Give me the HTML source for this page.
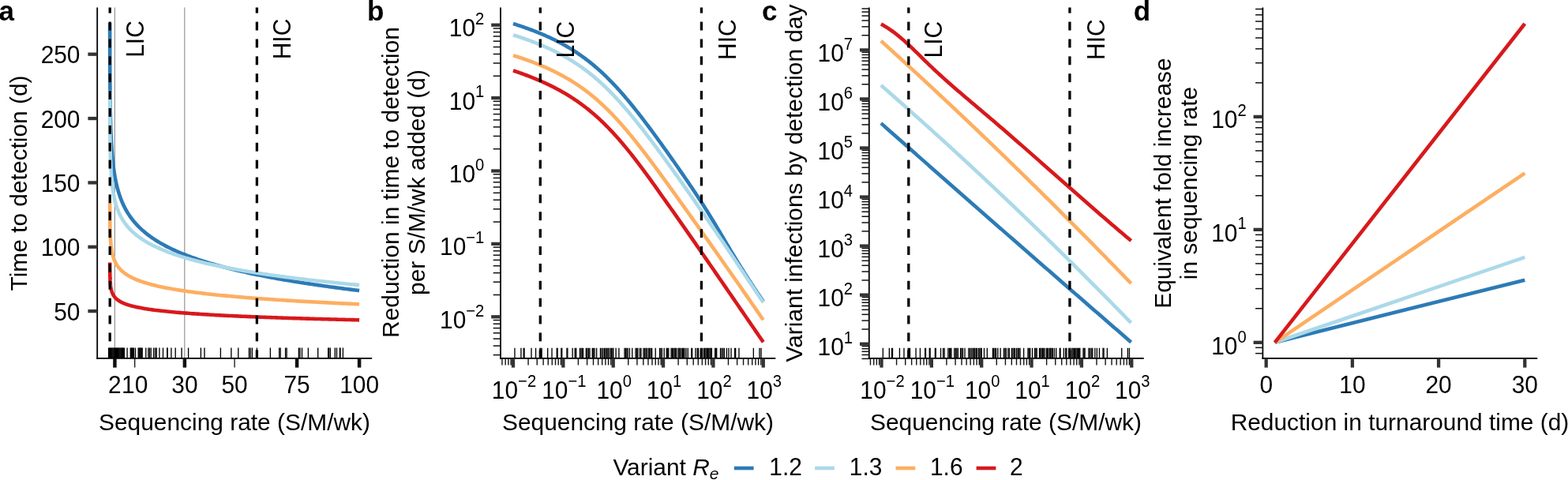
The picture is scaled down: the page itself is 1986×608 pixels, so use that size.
<!DOCTYPE html>
<html><head><meta charset="utf-8"><style>
html,body{margin:0;padding:0;background:#fff;}
svg{display:block;}
text{font-family:"Liberation Sans",Arial,Helvetica,sans-serif;fill:#000;}
</style></head><body>
<svg width="1986" height="608" viewBox="0 0 1986 608">
<rect width="1986" height="608" fill="#fff"/>
<text x="-1.50" y="25.80" font-size="35" text-anchor="start" font-weight="bold">a</text>
<line x1="145.40" y1="9.50" x2="145.40" y2="453.90" stroke="#959595" stroke-width="1.2" />
<line x1="233.80" y1="9.50" x2="233.80" y2="453.90" stroke="#959595" stroke-width="1.2" />
<path d="M139.13,28.91 L139.13,30.61 L139.13,32.30 L139.14,34.00 L139.14,35.70 L139.14,37.40 L139.14,39.09 L139.14,40.79 L139.15,42.49 L139.15,44.18 L139.15,45.88 L139.15,47.58 L139.16,49.28 L139.16,50.97 L139.16,52.67 L139.16,54.37 L139.17,56.06 L139.17,57.76 L139.17,59.46 L139.18,61.16 L139.18,62.85 L139.18,64.55 L139.19,66.25 L139.19,67.94 L139.20,69.64 L139.20,71.34 L139.21,73.04 L139.21,74.73 L139.22,76.43 L139.22,78.13 L139.23,79.82 L139.23,81.52 L139.24,83.22 L139.25,84.92 L139.25,86.61 L139.26,88.31 L139.27,90.01 L139.28,91.70 L139.28,93.40 L139.29,95.10 L139.30,96.80 L139.31,98.49 L139.32,100.19 L139.33,101.89 L139.34,103.58 L139.35,105.28 L139.37,106.98 L139.38,108.68 L139.39,110.37 L139.41,112.07 L139.42,113.77 L139.44,115.47 L139.45,117.16 L139.47,118.86 L139.49,120.56 L139.50,122.25 L139.52,123.95 L139.54,125.65 L139.57,127.35 L139.59,129.04 L139.61,130.74 L139.63,132.44 L139.66,134.13 L139.69,135.83 L139.71,137.53 L139.74,139.23 L139.77,140.92 L139.81,142.62 L139.84,144.32 L139.87,146.01 L139.91,147.71 L139.95,149.41 L139.99,151.11 L140.03,152.80 L140.08,154.50 L140.12,156.20 L140.17,157.89 L140.22,159.59 L140.28,161.29 L140.33,162.99 L140.39,164.68 L140.45,166.38 L140.51,168.08 L140.58,169.77 L140.65,171.47 L140.73,173.17 L140.80,174.87 L140.88,176.56 L140.97,178.26 L141.06,179.96 L141.15,181.65 L141.25,183.35 L141.35,185.05 L141.46,186.75 L141.57,188.44 L141.68,190.14 L141.81,191.84 L141.94,193.53 L142.07,195.23 L142.21,196.93 L142.36,198.63 L142.51,200.32 L142.68,202.02 L142.85,203.72 L143.02,205.41 L143.21,207.11 L143.40,208.81 L143.61,210.51 L143.82,212.20 L144.05,213.90 L144.28,215.60 L144.53,217.29 L144.78,218.99 L145.05,220.69 L145.34,222.39 L145.63,224.08 L145.94,225.78 L146.27,227.48 L146.61,229.18 L146.96,230.87 L147.34,232.57 L147.73,234.27 L148.14,235.96 L148.57,237.66 L149.02,239.36 L149.49,241.06 L149.98,242.75 L150.50,244.45 L151.04,246.15 L151.60,247.85 L152.20,249.54 L152.82,251.24 L153.47,252.94 L154.15,254.64 L154.86,256.34 L155.61,258.03 L156.40,259.73 L157.22,261.43 L158.08,263.13 L158.98,264.83 L159.92,266.53 L160.91,268.23 L161.94,269.92 L163.03,271.62 L164.16,273.32 L165.35,275.02 L166.60,276.72 L167.90,278.42 L169.27,280.12 L170.70,281.83 L171.33,282.55 L173.72,285.17 L176.10,287.62 L178.49,289.92 L180.87,292.08 L183.26,294.12 L185.64,296.06 L188.02,297.90 L190.41,299.66 L192.79,301.33 L195.18,302.94 L197.56,304.48 L199.95,305.96 L202.33,307.38 L204.72,308.75 L207.10,310.08 L209.49,311.36 L211.87,312.59 L214.25,313.79 L216.64,314.95 L219.02,316.08 L221.41,317.18 L223.79,318.24 L226.18,319.28 L228.56,320.29 L230.95,321.27 L233.33,322.23 L235.72,323.16 L238.10,324.08 L240.49,324.97 L242.87,325.84 L245.25,326.69 L247.64,327.53 L250.02,328.34 L252.41,329.14 L254.79,329.93 L257.18,330.70 L259.56,331.45 L261.95,332.19 L264.33,332.91 L266.72,333.62 L269.10,334.32 L271.49,335.01 L273.87,335.68 L276.25,336.34 L278.64,336.99 L281.02,337.63 L283.41,338.26 L285.79,338.88 L288.18,339.49 L290.56,340.09 L292.95,340.69 L295.33,341.27 L297.72,341.84 L300.10,342.41 L302.49,342.96 L304.87,343.51 L307.25,344.06 L309.64,344.59 L312.02,345.12 L314.41,345.64 L316.79,346.15 L319.18,346.65 L321.56,347.15 L323.95,347.65 L326.33,348.13 L328.72,348.61 L331.10,349.09 L333.49,349.56 L335.87,350.02 L338.25,350.48 L340.64,350.93 L343.02,351.38 L345.41,351.82 L347.79,352.26 L350.18,352.69 L352.56,353.12 L354.95,353.54 L357.33,353.96 L359.72,354.37 L362.10,354.78 L364.49,355.19 L366.87,355.59 L369.25,355.98 L371.64,356.38 L374.02,356.76 L376.41,357.15 L378.79,357.53 L381.18,357.91 L383.56,358.28 L385.95,358.65 L388.33,359.02 L390.72,359.38 L393.10,359.74 L395.48,360.10 L397.87,360.45 L400.25,360.80 L402.64,361.14 L405.02,361.49 L407.41,361.83 L409.79,362.17 L412.18,362.50 L414.56,362.83 L416.95,363.16 L419.33,363.49 L421.72,363.81 L424.10,364.13 L426.48,364.45 L428.87,364.76 L431.25,365.07 L433.64,365.38 L436.02,365.69 L438.41,366.00 L440.79,366.30 L443.18,366.60 L445.56,366.90 L447.95,367.19 L450.33,367.49 L452.72,367.78 L455.10,368.07" fill="none" stroke="#2c7bb6" stroke-width="4.6" stroke-linejoin="round" stroke-linecap="butt"/>
<path d="M139.13,114.77 L139.13,115.99 L139.13,117.20 L139.14,118.42 L139.14,119.63 L139.14,120.85 L139.14,122.06 L139.14,123.27 L139.15,124.49 L139.15,125.70 L139.15,126.92 L139.15,128.13 L139.16,129.35 L139.16,130.56 L139.16,131.78 L139.16,132.99 L139.17,134.20 L139.17,135.42 L139.17,136.63 L139.18,137.85 L139.18,139.06 L139.18,140.28 L139.19,141.49 L139.19,142.71 L139.20,143.92 L139.20,145.13 L139.21,146.35 L139.21,147.56 L139.22,148.78 L139.22,149.99 L139.23,151.21 L139.23,152.42 L139.24,153.63 L139.25,154.85 L139.25,156.06 L139.26,157.28 L139.27,158.49 L139.28,159.71 L139.28,160.92 L139.29,162.14 L139.30,163.35 L139.31,164.56 L139.32,165.78 L139.33,166.99 L139.34,168.21 L139.35,169.42 L139.37,170.64 L139.38,171.85 L139.39,173.07 L139.41,174.28 L139.42,175.49 L139.44,176.71 L139.45,177.92 L139.47,179.14 L139.49,180.35 L139.50,181.57 L139.52,182.78 L139.54,184.00 L139.57,185.21 L139.59,186.42 L139.61,187.64 L139.63,188.85 L139.66,190.07 L139.69,191.28 L139.71,192.50 L139.74,193.71 L139.77,194.92 L139.81,196.14 L139.84,197.35 L139.87,198.57 L139.91,199.78 L139.95,201.00 L139.99,202.21 L140.03,203.43 L140.08,204.64 L140.12,205.85 L140.17,207.07 L140.22,208.28 L140.28,209.50 L140.33,210.71 L140.39,211.93 L140.45,213.14 L140.51,214.36 L140.58,215.57 L140.65,216.78 L140.73,218.00 L140.80,219.21 L140.88,220.43 L140.97,221.64 L141.06,222.86 L141.15,224.07 L141.25,225.29 L141.35,226.50 L141.46,227.72 L141.57,228.93 L141.68,230.15 L141.81,231.36 L141.94,232.57 L142.07,233.79 L142.21,235.00 L142.36,236.22 L142.51,237.43 L142.68,238.65 L142.85,239.86 L143.02,241.08 L143.21,242.29 L143.40,243.51 L143.61,244.72 L143.82,245.94 L144.05,247.15 L144.28,248.37 L144.53,249.58 L144.78,250.80 L145.05,252.02 L145.34,253.23 L145.63,254.45 L145.94,255.66 L146.27,256.88 L146.61,258.10 L146.96,259.31 L147.34,260.53 L147.73,261.75 L148.14,262.96 L148.57,264.18 L149.02,265.40 L149.49,266.62 L149.98,267.83 L150.50,269.05 L151.04,270.27 L151.60,271.49 L152.20,272.71 L152.82,273.93 L153.47,275.15 L154.15,276.38 L154.86,277.60 L155.61,278.82 L156.40,280.04 L157.22,281.27 L158.08,282.50 L158.98,283.72 L159.92,284.95 L160.91,286.18 L161.94,287.41 L163.03,288.64 L164.16,289.87 L165.35,291.11 L166.60,292.35 L167.90,293.58 L169.27,294.82 L170.70,296.07 L171.33,296.60 L173.72,298.51 L176.10,300.31 L178.49,302.00 L180.87,303.59 L183.26,305.10 L185.64,306.53 L188.02,307.90 L190.41,309.20 L192.79,310.45 L195.18,311.64 L197.56,312.79 L199.95,313.90 L202.33,314.96 L204.72,315.99 L207.10,316.98 L209.49,317.94 L211.87,318.88 L214.25,319.78 L216.64,320.65 L219.02,321.50 L221.41,322.33 L223.79,323.13 L226.18,323.92 L228.56,324.68 L230.95,325.42 L233.33,326.15 L235.72,326.86 L238.10,327.55 L240.49,328.23 L242.87,328.89 L245.25,329.53 L247.64,330.17 L250.02,330.79 L252.41,331.39 L254.79,331.99 L257.18,332.57 L259.56,333.14 L261.95,333.70 L264.33,334.26 L266.72,334.80 L269.10,335.33 L271.49,335.85 L273.87,336.36 L276.25,336.87 L278.64,337.36 L281.02,337.85 L283.41,338.33 L285.79,338.80 L288.18,339.26 L290.56,339.72 L292.95,340.17 L295.33,340.62 L297.72,341.05 L300.10,341.48 L302.49,341.91 L304.87,342.33 L307.25,342.74 L309.64,343.15 L312.02,343.55 L314.41,343.94 L316.79,344.34 L319.18,344.72 L321.56,345.10 L323.95,345.48 L326.33,345.85 L328.72,346.22 L331.10,346.58 L333.49,346.94 L335.87,347.29 L338.25,347.64 L340.64,347.98 L343.02,348.33 L345.41,348.66 L347.79,349.00 L350.18,349.33 L352.56,349.65 L354.95,349.98 L357.33,350.29 L359.72,350.61 L362.10,350.92 L364.49,351.23 L366.87,351.54 L369.25,351.84 L371.64,352.14 L374.02,352.44 L376.41,352.73 L378.79,353.02 L381.18,353.31 L383.56,353.59 L385.95,353.88 L388.33,354.16 L390.72,354.43 L393.10,354.71 L395.48,354.98 L397.87,355.25 L400.25,355.52 L402.64,355.78 L405.02,356.04 L407.41,356.30 L409.79,356.56 L412.18,356.82 L414.56,357.07 L416.95,357.32 L419.33,357.57 L421.72,357.82 L424.10,358.06 L426.48,358.30 L428.87,358.55 L431.25,358.78 L433.64,359.02 L436.02,359.26 L438.41,359.49 L440.79,359.72 L443.18,359.95 L445.56,360.18 L447.95,360.40 L450.33,360.63 L452.72,360.85 L455.10,361.07" fill="none" stroke="#abd9e9" stroke-width="4.6" stroke-linejoin="round" stroke-linecap="butt"/>
<path d="M139.13,257.19 L139.13,257.84 L139.13,258.48 L139.14,259.13 L139.14,259.77 L139.14,260.42 L139.14,261.06 L139.14,261.70 L139.15,262.35 L139.15,262.99 L139.15,263.64 L139.15,264.28 L139.16,264.93 L139.16,265.57 L139.16,266.22 L139.16,266.86 L139.17,267.51 L139.17,268.15 L139.17,268.80 L139.18,269.44 L139.18,270.09 L139.18,270.73 L139.19,271.38 L139.19,272.02 L139.20,272.67 L139.20,273.31 L139.21,273.96 L139.21,274.60 L139.22,275.25 L139.22,275.89 L139.23,276.54 L139.23,277.18 L139.24,277.83 L139.25,278.47 L139.25,279.12 L139.26,279.76 L139.27,280.41 L139.28,281.05 L139.28,281.70 L139.29,282.34 L139.30,282.99 L139.31,283.63 L139.32,284.28 L139.33,284.92 L139.34,285.57 L139.35,286.21 L139.37,286.86 L139.38,287.50 L139.39,288.15 L139.41,288.79 L139.42,289.44 L139.44,290.08 L139.45,290.73 L139.47,291.37 L139.49,292.02 L139.50,292.66 L139.52,293.31 L139.54,293.95 L139.57,294.60 L139.59,295.24 L139.61,295.89 L139.63,296.53 L139.66,297.18 L139.69,297.82 L139.71,298.47 L139.74,299.11 L139.77,299.76 L139.81,300.40 L139.84,301.04 L139.87,301.69 L139.91,302.33 L139.95,302.98 L139.99,303.62 L140.03,304.27 L140.08,304.91 L140.12,305.56 L140.17,306.20 L140.22,306.85 L140.28,307.49 L140.33,308.14 L140.39,308.78 L140.45,309.43 L140.51,310.07 L140.58,310.72 L140.65,311.36 L140.73,312.01 L140.80,312.65 L140.88,313.30 L140.97,313.94 L141.06,314.59 L141.15,315.23 L141.25,315.88 L141.35,316.52 L141.46,317.17 L141.57,317.81 L141.68,318.46 L141.81,319.10 L141.94,319.75 L142.07,320.39 L142.21,321.04 L142.36,321.68 L142.51,322.33 L142.68,322.97 L142.85,323.62 L143.02,324.26 L143.21,324.91 L143.40,325.55 L143.61,326.20 L143.82,326.84 L144.05,327.49 L144.28,328.13 L144.53,328.78 L144.78,329.42 L145.05,330.07 L145.34,330.71 L145.63,331.36 L145.94,332.00 L146.27,332.65 L146.61,333.29 L146.96,333.94 L147.34,334.58 L147.73,335.23 L148.14,335.87 L148.57,336.52 L149.02,337.16 L149.49,337.81 L149.98,338.45 L150.50,339.10 L151.04,339.74 L151.60,340.38 L152.20,341.03 L152.82,341.67 L153.47,342.32 L154.15,342.96 L154.86,343.61 L155.61,344.25 L156.40,344.90 L157.22,345.54 L158.08,346.19 L158.98,346.83 L159.92,347.48 L160.91,348.12 L161.94,348.77 L163.03,349.41 L164.16,350.06 L165.35,350.70 L166.60,351.35 L167.90,351.99 L169.27,352.64 L170.70,353.28 L171.33,353.56 L173.72,354.55 L176.10,355.48 L178.49,356.35 L180.87,357.16 L183.26,357.94 L185.64,358.67 L188.02,359.36 L190.41,360.03 L192.79,360.66 L195.18,361.26 L197.56,361.84 L199.95,362.40 L202.33,362.93 L204.72,363.45 L207.10,363.94 L209.49,364.42 L211.87,364.89 L214.25,365.34 L216.64,365.77 L219.02,366.19 L221.41,366.60 L223.79,367.00 L226.18,367.38 L228.56,367.76 L230.95,368.13 L233.33,368.48 L235.72,368.83 L238.10,369.17 L240.49,369.50 L242.87,369.82 L245.25,370.14 L247.64,370.45 L250.02,370.75 L252.41,371.05 L254.79,371.34 L257.18,371.62 L259.56,371.90 L261.95,372.17 L264.33,372.44 L266.72,372.70 L269.10,372.96 L271.49,373.21 L273.87,373.46 L276.25,373.70 L278.64,373.94 L281.02,374.18 L283.41,374.41 L285.79,374.64 L288.18,374.86 L290.56,375.08 L292.95,375.30 L295.33,375.52 L297.72,375.73 L300.10,375.93 L302.49,376.14 L304.87,376.34 L307.25,376.54 L309.64,376.73 L312.02,376.93 L314.41,377.12 L316.79,377.31 L319.18,377.49 L321.56,377.67 L323.95,377.85 L326.33,378.03 L328.72,378.21 L331.10,378.38 L333.49,378.55 L335.87,378.72 L338.25,378.89 L340.64,379.06 L343.02,379.22 L345.41,379.38 L347.79,379.54 L350.18,379.70 L352.56,379.86 L354.95,380.01 L357.33,380.16 L359.72,380.32 L362.10,380.47 L364.49,380.61 L366.87,380.76 L369.25,380.90 L371.64,381.05 L374.02,381.19 L376.41,381.33 L378.79,381.47 L381.18,381.61 L383.56,381.74 L385.95,381.88 L388.33,382.01 L390.72,382.14 L393.10,382.28 L395.48,382.41 L397.87,382.53 L400.25,382.66 L402.64,382.79 L405.02,382.91 L407.41,383.04 L409.79,383.16 L412.18,383.28 L414.56,383.40 L416.95,383.52 L419.33,383.64 L421.72,383.76 L424.10,383.88 L426.48,383.99 L428.87,384.11 L431.25,384.22 L433.64,384.34 L436.02,384.45 L438.41,384.56 L440.79,384.67 L443.18,384.78 L445.56,384.89 L447.95,385.00 L450.33,385.10 L452.72,385.21 L455.10,385.31" fill="none" stroke="#fdae61" stroke-width="4.6" stroke-linejoin="round" stroke-linecap="butt"/>
<path d="M139.13,332.46 L139.13,332.87 L139.13,333.28 L139.14,333.69 L139.14,334.10 L139.14,334.51 L139.14,334.92 L139.14,335.33 L139.15,335.74 L139.15,336.15 L139.15,336.56 L139.15,336.96 L139.16,337.37 L139.16,337.78 L139.16,338.18 L139.16,338.59 L139.17,338.99 L139.17,339.40 L139.17,339.80 L139.18,340.21 L139.18,340.61 L139.18,341.01 L139.19,341.41 L139.19,341.81 L139.20,342.21 L139.20,342.61 L139.21,343.01 L139.21,343.41 L139.22,343.81 L139.22,344.21 L139.23,344.61 L139.23,345.01 L139.24,345.40 L139.25,345.80 L139.25,346.20 L139.26,346.59 L139.27,346.99 L139.28,347.38 L139.28,347.78 L139.29,348.17 L139.30,348.56 L139.31,348.95 L139.32,349.35 L139.33,349.74 L139.34,350.13 L139.35,350.52 L139.37,350.91 L139.38,351.30 L139.39,351.69 L139.41,352.08 L139.42,352.47 L139.44,352.85 L139.45,353.24 L139.47,353.63 L139.49,354.01 L139.50,354.40 L139.52,354.78 L139.54,355.17 L139.57,355.55 L139.59,355.94 L139.61,356.32 L139.63,356.70 L139.66,357.08 L139.69,357.47 L139.71,357.85 L139.74,358.23 L139.77,358.61 L139.81,358.99 L139.84,359.37 L139.87,359.75 L139.91,360.13 L139.95,360.50 L139.99,360.88 L140.03,361.26 L140.08,361.63 L140.12,362.01 L140.17,362.39 L140.22,362.76 L140.28,363.13 L140.33,363.51 L140.39,363.88 L140.45,364.25 L140.51,364.63 L140.58,365.00 L140.65,365.37 L140.73,365.74 L140.80,366.11 L140.88,366.48 L140.97,366.85 L141.06,367.22 L141.15,367.59 L141.25,367.96 L141.35,368.33 L141.46,368.69 L141.57,369.06 L141.68,369.42 L141.81,369.79 L141.94,370.16 L142.07,370.52 L142.21,370.88 L142.36,371.25 L142.51,371.61 L142.68,371.97 L142.85,372.34 L143.02,372.70 L143.21,373.06 L143.40,373.42 L143.61,373.78 L143.82,374.14 L144.05,374.50 L144.28,374.86 L144.53,375.22 L144.78,375.57 L145.05,375.93 L145.34,376.29 L145.63,376.64 L145.94,377.00 L146.27,377.36 L146.61,377.71 L146.96,378.06 L147.34,378.42 L147.73,378.77 L148.14,379.12 L148.57,379.48 L149.02,379.83 L149.49,380.18 L149.98,380.53 L150.50,380.88 L151.04,381.23 L151.60,381.58 L152.20,381.93 L152.82,382.28 L153.47,382.63 L154.15,382.97 L154.86,383.32 L155.61,383.67 L156.40,384.01 L157.22,384.36 L158.08,384.70 L158.98,385.05 L159.92,385.39 L160.91,385.74 L161.94,386.08 L163.03,386.42 L164.16,386.76 L165.35,387.11 L166.60,387.45 L167.90,387.79 L169.27,388.13 L170.70,388.47 L171.33,388.61 L173.72,389.14 L176.10,389.62 L178.49,390.08 L180.87,390.51 L183.26,390.92 L185.64,391.30 L188.02,391.67 L190.41,392.02 L192.79,392.35 L195.18,392.67 L197.56,392.97 L199.95,393.27 L202.33,393.55 L204.72,393.82 L207.10,394.08 L209.49,394.33 L211.87,394.58 L214.25,394.81 L216.64,395.04 L219.02,395.26 L221.41,395.48 L223.79,395.69 L226.18,395.89 L228.56,396.09 L230.95,396.28 L233.33,396.47 L235.72,396.65 L238.10,396.83 L240.49,397.00 L242.87,397.17 L245.25,397.34 L247.64,397.50 L250.02,397.66 L252.41,397.82 L254.79,397.97 L257.18,398.12 L259.56,398.27 L261.95,398.41 L264.33,398.55 L266.72,398.69 L269.10,398.82 L271.49,398.96 L273.87,399.09 L276.25,399.22 L278.64,399.34 L281.02,399.47 L283.41,399.59 L285.79,399.71 L288.18,399.83 L290.56,399.94 L292.95,400.06 L295.33,400.17 L297.72,400.28 L300.10,400.39 L302.49,400.50 L304.87,400.60 L307.25,400.71 L309.64,400.81 L312.02,400.91 L314.41,401.01 L316.79,401.11 L319.18,401.21 L321.56,401.31 L323.95,401.40 L326.33,401.49 L328.72,401.59 L331.10,401.68 L333.49,401.77 L335.87,401.86 L338.25,401.95 L340.64,402.03 L343.02,402.12 L345.41,402.20 L347.79,402.29 L350.18,402.37 L352.56,402.45 L354.95,402.54 L357.33,402.62 L359.72,402.70 L362.10,402.77 L364.49,402.85 L366.87,402.93 L369.25,403.01 L371.64,403.08 L374.02,403.16 L376.41,403.23 L378.79,403.30 L381.18,403.38 L383.56,403.45 L385.95,403.52 L388.33,403.59 L390.72,403.66 L393.10,403.73 L395.48,403.80 L397.87,403.86 L400.25,403.93 L402.64,404.00 L405.02,404.06 L407.41,404.13 L409.79,404.19 L412.18,404.26 L414.56,404.32 L416.95,404.38 L419.33,404.45 L421.72,404.51 L424.10,404.57 L426.48,404.63 L428.87,404.69 L431.25,404.75 L433.64,404.81 L436.02,404.87 L438.41,404.93 L440.79,404.99 L443.18,405.04 L445.56,405.10 L447.95,405.16 L450.33,405.21 L452.72,405.27 L455.10,405.33" fill="none" stroke="#d7191c" stroke-width="4.6" stroke-linejoin="round" stroke-linecap="butt"/>
<line x1="137.60" y1="440.50" x2="137.60" y2="453.90" stroke="#000" stroke-width="1.35" />
<line x1="138.50" y1="440.50" x2="138.50" y2="453.90" stroke="#000" stroke-width="1.35" />
<line x1="139.40" y1="440.50" x2="139.40" y2="453.90" stroke="#000" stroke-width="1.35" />
<line x1="140.30" y1="440.50" x2="140.30" y2="453.90" stroke="#000" stroke-width="1.35" />
<line x1="141.20" y1="440.50" x2="141.20" y2="453.90" stroke="#000" stroke-width="1.35" />
<line x1="142.10" y1="440.50" x2="142.10" y2="453.90" stroke="#000" stroke-width="1.35" />
<line x1="143.00" y1="440.50" x2="143.00" y2="453.90" stroke="#000" stroke-width="1.35" />
<line x1="143.90" y1="440.50" x2="143.90" y2="453.90" stroke="#000" stroke-width="1.35" />
<line x1="144.80" y1="440.50" x2="144.80" y2="453.90" stroke="#000" stroke-width="1.35" />
<line x1="145.70" y1="440.50" x2="145.70" y2="453.90" stroke="#000" stroke-width="1.35" />
<line x1="146.60" y1="440.50" x2="146.60" y2="453.90" stroke="#000" stroke-width="1.35" />
<line x1="147.50" y1="440.50" x2="147.50" y2="453.90" stroke="#000" stroke-width="1.35" />
<line x1="148.40" y1="440.50" x2="148.40" y2="453.90" stroke="#000" stroke-width="1.35" />
<line x1="149.30" y1="440.50" x2="149.30" y2="453.90" stroke="#000" stroke-width="1.35" />
<line x1="150.20" y1="440.50" x2="150.20" y2="453.90" stroke="#000" stroke-width="1.35" />
<line x1="151.10" y1="440.50" x2="151.10" y2="453.90" stroke="#000" stroke-width="1.35" />
<line x1="152.00" y1="440.50" x2="152.00" y2="453.90" stroke="#000" stroke-width="1.35" />
<line x1="152.90" y1="440.50" x2="152.90" y2="453.90" stroke="#000" stroke-width="1.35" />
<line x1="153.80" y1="440.50" x2="153.80" y2="453.90" stroke="#000" stroke-width="1.35" />
<line x1="154.70" y1="440.50" x2="154.70" y2="453.90" stroke="#000" stroke-width="1.35" />
<line x1="155.60" y1="440.50" x2="155.60" y2="453.90" stroke="#000" stroke-width="1.35" />
<line x1="156.50" y1="440.50" x2="156.50" y2="453.90" stroke="#000" stroke-width="1.35" />
<line x1="157.40" y1="440.50" x2="157.40" y2="453.90" stroke="#000" stroke-width="1.35" />
<line x1="161.10" y1="440.50" x2="161.10" y2="453.90" stroke="#000" stroke-width="1.35" />
<line x1="165.30" y1="440.50" x2="165.30" y2="453.90" stroke="#000" stroke-width="1.35" />
<line x1="166.30" y1="440.50" x2="166.30" y2="453.90" stroke="#000" stroke-width="1.35" />
<line x1="167.30" y1="440.50" x2="167.30" y2="453.90" stroke="#000" stroke-width="1.35" />
<line x1="168.30" y1="440.50" x2="168.30" y2="453.90" stroke="#000" stroke-width="1.35" />
<line x1="169.50" y1="440.50" x2="169.50" y2="453.90" stroke="#000" stroke-width="1.35" />
<line x1="171.50" y1="440.50" x2="171.50" y2="453.90" stroke="#000" stroke-width="1.35" />
<line x1="175.20" y1="440.50" x2="175.20" y2="453.90" stroke="#000" stroke-width="1.35" />
<line x1="176.20" y1="440.50" x2="176.20" y2="453.90" stroke="#000" stroke-width="1.35" />
<line x1="177.20" y1="440.50" x2="177.20" y2="453.90" stroke="#000" stroke-width="1.35" />
<line x1="178.20" y1="440.50" x2="178.20" y2="453.90" stroke="#000" stroke-width="1.35" />
<line x1="179.20" y1="440.50" x2="179.20" y2="453.90" stroke="#000" stroke-width="1.35" />
<line x1="180.20" y1="440.50" x2="180.20" y2="453.90" stroke="#000" stroke-width="1.35" />
<line x1="184.80" y1="440.50" x2="184.80" y2="453.90" stroke="#000" stroke-width="1.35" />
<line x1="187.90" y1="440.50" x2="187.90" y2="453.90" stroke="#000" stroke-width="1.35" />
<line x1="189.40" y1="440.50" x2="189.40" y2="453.90" stroke="#000" stroke-width="1.35" />
<line x1="191.20" y1="440.50" x2="191.20" y2="453.90" stroke="#000" stroke-width="1.35" />
<line x1="194.70" y1="440.50" x2="194.70" y2="453.90" stroke="#000" stroke-width="1.35" />
<line x1="196.80" y1="440.50" x2="196.80" y2="453.90" stroke="#000" stroke-width="1.35" />
<line x1="198.30" y1="440.50" x2="198.30" y2="453.90" stroke="#000" stroke-width="1.35" />
<line x1="201.90" y1="440.50" x2="201.90" y2="453.90" stroke="#000" stroke-width="1.35" />
<line x1="206.50" y1="440.50" x2="206.50" y2="453.90" stroke="#000" stroke-width="1.35" />
<line x1="211.80" y1="440.50" x2="211.80" y2="453.90" stroke="#000" stroke-width="1.35" />
<line x1="212.00" y1="440.50" x2="212.00" y2="453.90" stroke="#000" stroke-width="1.35" />
<line x1="216.90" y1="440.50" x2="216.90" y2="453.90" stroke="#000" stroke-width="1.35" />
<line x1="222.20" y1="440.50" x2="222.20" y2="453.90" stroke="#000" stroke-width="1.35" />
<line x1="230.10" y1="440.50" x2="230.10" y2="453.90" stroke="#000" stroke-width="1.35" />
<line x1="238.60" y1="440.50" x2="238.60" y2="453.90" stroke="#000" stroke-width="1.35" />
<line x1="254.40" y1="440.50" x2="254.40" y2="453.90" stroke="#000" stroke-width="1.35" />
<line x1="259.00" y1="440.50" x2="259.00" y2="453.90" stroke="#000" stroke-width="1.35" />
<line x1="279.40" y1="440.50" x2="279.40" y2="453.90" stroke="#000" stroke-width="1.35" />
<line x1="292.90" y1="440.50" x2="292.90" y2="453.90" stroke="#000" stroke-width="1.35" />
<line x1="301.80" y1="440.50" x2="301.80" y2="453.90" stroke="#000" stroke-width="1.35" />
<line x1="315.50" y1="440.50" x2="315.50" y2="453.90" stroke="#000" stroke-width="1.35" />
<line x1="317.20" y1="440.50" x2="317.20" y2="453.90" stroke="#000" stroke-width="1.35" />
<line x1="319.40" y1="440.50" x2="319.40" y2="453.90" stroke="#000" stroke-width="1.35" />
<line x1="325.40" y1="440.50" x2="325.40" y2="453.90" stroke="#000" stroke-width="1.35" />
<line x1="342.40" y1="440.50" x2="342.40" y2="453.90" stroke="#000" stroke-width="1.35" />
<line x1="353.70" y1="440.50" x2="353.70" y2="453.90" stroke="#000" stroke-width="1.35" />
<line x1="355.20" y1="440.50" x2="355.20" y2="453.90" stroke="#000" stroke-width="1.35" />
<line x1="361.60" y1="440.50" x2="361.60" y2="453.90" stroke="#000" stroke-width="1.35" />
<line x1="363.10" y1="440.50" x2="363.10" y2="453.90" stroke="#000" stroke-width="1.35" />
<line x1="378.40" y1="440.50" x2="378.40" y2="453.90" stroke="#000" stroke-width="1.35" />
<line x1="380.00" y1="440.50" x2="380.00" y2="453.90" stroke="#000" stroke-width="1.35" />
<line x1="382.50" y1="440.50" x2="382.50" y2="453.90" stroke="#000" stroke-width="1.35" />
<line x1="390.40" y1="440.50" x2="390.40" y2="453.90" stroke="#000" stroke-width="1.35" />
<line x1="402.70" y1="440.50" x2="402.70" y2="453.90" stroke="#000" stroke-width="1.35" />
<line x1="415.70" y1="440.50" x2="415.70" y2="453.90" stroke="#000" stroke-width="1.35" />
<line x1="416.70" y1="440.50" x2="416.70" y2="453.90" stroke="#000" stroke-width="1.35" />
<line x1="418.40" y1="440.50" x2="418.40" y2="453.90" stroke="#000" stroke-width="1.35" />
<line x1="424.30" y1="440.50" x2="424.30" y2="453.90" stroke="#000" stroke-width="1.35" />
<line x1="426.50" y1="440.50" x2="426.50" y2="453.90" stroke="#000" stroke-width="1.35" />
<line x1="430.40" y1="440.50" x2="430.40" y2="453.90" stroke="#000" stroke-width="1.35" />
<line x1="431.00" y1="440.50" x2="431.00" y2="453.90" stroke="#000" stroke-width="1.35" />
<line x1="434.40" y1="440.50" x2="434.40" y2="453.90" stroke="#000" stroke-width="1.35" />
<line x1="139.20" y1="9.50" x2="139.20" y2="16.62" stroke="#000" stroke-width="3.3" />
<line x1="139.20" y1="27.60" x2="139.20" y2="38.50" stroke="#000" stroke-width="3.3" />
<line x1="139.20" y1="49.48" x2="139.20" y2="60.38" stroke="#000" stroke-width="3.3" />
<line x1="139.20" y1="71.36" x2="139.20" y2="82.26" stroke="#000" stroke-width="3.3" />
<line x1="139.20" y1="93.24" x2="139.20" y2="104.14" stroke="#000" stroke-width="3.3" />
<line x1="139.20" y1="115.12" x2="139.20" y2="126.02" stroke="#000" stroke-width="3.3" />
<line x1="139.20" y1="137.00" x2="139.20" y2="147.90" stroke="#000" stroke-width="3.3" />
<line x1="139.20" y1="158.88" x2="139.20" y2="169.78" stroke="#000" stroke-width="3.3" />
<line x1="139.20" y1="180.76" x2="139.20" y2="191.66" stroke="#000" stroke-width="3.3" />
<line x1="139.20" y1="202.64" x2="139.20" y2="213.54" stroke="#000" stroke-width="3.3" />
<line x1="139.20" y1="224.52" x2="139.20" y2="235.42" stroke="#000" stroke-width="3.3" />
<line x1="139.20" y1="246.40" x2="139.20" y2="257.30" stroke="#000" stroke-width="3.3" />
<line x1="139.20" y1="268.28" x2="139.20" y2="279.18" stroke="#000" stroke-width="3.3" />
<line x1="139.20" y1="290.16" x2="139.20" y2="301.06" stroke="#000" stroke-width="3.3" />
<line x1="139.20" y1="312.04" x2="139.20" y2="322.94" stroke="#000" stroke-width="3.3" />
<line x1="139.20" y1="333.92" x2="139.20" y2="344.82" stroke="#000" stroke-width="3.3" />
<line x1="139.20" y1="355.80" x2="139.20" y2="366.70" stroke="#000" stroke-width="3.3" />
<line x1="139.20" y1="377.68" x2="139.20" y2="388.58" stroke="#000" stroke-width="3.3" />
<line x1="139.20" y1="399.56" x2="139.20" y2="410.46" stroke="#000" stroke-width="3.3" />
<line x1="139.20" y1="421.44" x2="139.20" y2="432.34" stroke="#000" stroke-width="3.3" />
<line x1="139.20" y1="443.32" x2="139.20" y2="453.90" stroke="#000" stroke-width="3.3" />
<line x1="325.40" y1="9.50" x2="325.40" y2="16.62" stroke="#000" stroke-width="3.3" />
<line x1="325.40" y1="27.60" x2="325.40" y2="38.50" stroke="#000" stroke-width="3.3" />
<line x1="325.40" y1="49.48" x2="325.40" y2="60.38" stroke="#000" stroke-width="3.3" />
<line x1="325.40" y1="71.36" x2="325.40" y2="82.26" stroke="#000" stroke-width="3.3" />
<line x1="325.40" y1="93.24" x2="325.40" y2="104.14" stroke="#000" stroke-width="3.3" />
<line x1="325.40" y1="115.12" x2="325.40" y2="126.02" stroke="#000" stroke-width="3.3" />
<line x1="325.40" y1="137.00" x2="325.40" y2="147.90" stroke="#000" stroke-width="3.3" />
<line x1="325.40" y1="158.88" x2="325.40" y2="169.78" stroke="#000" stroke-width="3.3" />
<line x1="325.40" y1="180.76" x2="325.40" y2="191.66" stroke="#000" stroke-width="3.3" />
<line x1="325.40" y1="202.64" x2="325.40" y2="213.54" stroke="#000" stroke-width="3.3" />
<line x1="325.40" y1="224.52" x2="325.40" y2="235.42" stroke="#000" stroke-width="3.3" />
<line x1="325.40" y1="246.40" x2="325.40" y2="257.30" stroke="#000" stroke-width="3.3" />
<line x1="325.40" y1="268.28" x2="325.40" y2="279.18" stroke="#000" stroke-width="3.3" />
<line x1="325.40" y1="290.16" x2="325.40" y2="301.06" stroke="#000" stroke-width="3.3" />
<line x1="325.40" y1="312.04" x2="325.40" y2="322.94" stroke="#000" stroke-width="3.3" />
<line x1="325.40" y1="333.92" x2="325.40" y2="344.82" stroke="#000" stroke-width="3.3" />
<line x1="325.40" y1="355.80" x2="325.40" y2="366.70" stroke="#000" stroke-width="3.3" />
<line x1="325.40" y1="377.68" x2="325.40" y2="388.58" stroke="#000" stroke-width="3.3" />
<line x1="325.40" y1="399.56" x2="325.40" y2="410.46" stroke="#000" stroke-width="3.3" />
<line x1="325.40" y1="421.44" x2="325.40" y2="432.34" stroke="#000" stroke-width="3.3" />
<line x1="325.40" y1="443.32" x2="325.40" y2="453.90" stroke="#000" stroke-width="3.3" />
<text transform="translate(182.00,49.50) rotate(-90) scale(1,1.066)" font-size="29.9" text-anchor="middle">LIC</text>
<text transform="translate(368.00,49.50) rotate(-90) scale(1,1.066)" font-size="29.9" text-anchor="middle">HIC</text>
<line x1="123.20" y1="9.50" x2="123.20" y2="454.80" stroke="#000" stroke-width="1.8" />
<line x1="122.30" y1="453.90" x2="471.20" y2="453.90" stroke="#000" stroke-width="1.8" />
<line x1="111.40" y1="394.10" x2="123.20" y2="394.10" stroke="#333333" stroke-width="4.3" />
<text transform="translate(101.50,405.80) scale(1,1.066)" font-size="29.9" text-anchor="end">50</text>
<line x1="111.40" y1="312.75" x2="123.20" y2="312.75" stroke="#333333" stroke-width="4.3" />
<text transform="translate(101.50,324.45) scale(1,1.066)" font-size="29.9" text-anchor="end">100</text>
<line x1="111.40" y1="231.40" x2="123.20" y2="231.40" stroke="#333333" stroke-width="4.3" />
<text transform="translate(101.50,243.10) scale(1,1.066)" font-size="29.9" text-anchor="end">150</text>
<line x1="111.40" y1="150.05" x2="123.20" y2="150.05" stroke="#333333" stroke-width="4.3" />
<text transform="translate(101.50,161.75) scale(1,1.066)" font-size="29.9" text-anchor="end">200</text>
<line x1="111.40" y1="68.70" x2="123.20" y2="68.70" stroke="#333333" stroke-width="4.3" />
<text transform="translate(101.50,80.40) scale(1,1.066)" font-size="29.9" text-anchor="end">250</text>
<line x1="145.42" y1="453.90" x2="145.42" y2="465.60" stroke="#111" stroke-width="4.5" />
<text transform="translate(145.42,497.60) scale(1,1.066)" font-size="29.9" text-anchor="middle">2</text>
<line x1="170.70" y1="453.90" x2="170.70" y2="465.60" stroke="#111" stroke-width="1.3" />
<text transform="translate(170.70,497.60) scale(1,1.066)" font-size="29.9" text-anchor="middle">10</text>
<line x1="233.90" y1="453.90" x2="233.90" y2="465.60" stroke="#111" stroke-width="4.5" />
<text transform="translate(233.90,497.60) scale(1,1.066)" font-size="29.9" text-anchor="middle">30</text>
<line x1="297.10" y1="453.90" x2="297.10" y2="465.60" stroke="#111" stroke-width="1.3" />
<text transform="translate(297.10,497.60) scale(1,1.066)" font-size="29.9" text-anchor="middle">50</text>
<line x1="376.10" y1="453.90" x2="376.10" y2="465.60" stroke="#111" stroke-width="4.5" />
<text transform="translate(376.10,497.60) scale(1,1.066)" font-size="29.9" text-anchor="middle">75</text>
<line x1="455.10" y1="453.90" x2="455.10" y2="465.60" stroke="#111" stroke-width="4.5" />
<text transform="translate(455.10,497.60) scale(1,1.066)" font-size="29.9" text-anchor="middle">100</text>
<text x="297.00" y="544.50" font-size="29.9" text-anchor="middle" >Sequencing rate (S/M/wk)</text>
<text transform="translate(33.50,232.00) rotate(-90)" font-size="29.9" text-anchor="middle">Time to detection (d)</text>
<text x="465.00" y="25.80" font-size="35" text-anchor="start" font-weight="bold">b</text>
<path d="M650.00,30.01 L651.22,30.39 L652.45,30.78 L653.67,31.17 L654.89,31.57 L656.11,31.97 L657.34,32.37 L658.56,32.78 L659.78,33.19 L661.01,33.60 L662.23,34.02 L663.45,34.44 L664.68,34.87 L665.90,35.30 L667.12,35.74 L668.34,36.18 L669.57,36.62 L670.79,37.07 L672.01,37.52 L673.24,37.98 L674.46,38.45 L675.68,38.91 L676.91,39.39 L678.13,39.86 L679.35,40.35 L680.57,40.84 L681.80,41.33 L683.02,41.83 L684.24,42.33 L685.47,42.85 L686.69,43.36 L687.91,43.88 L689.14,44.41 L690.36,44.95 L691.58,45.49 L692.80,46.03 L694.03,46.59 L695.25,47.15 L696.47,47.71 L697.70,48.29 L698.92,48.87 L700.14,49.46 L701.36,50.05 L702.59,50.65 L703.81,51.26 L705.03,51.88 L706.26,52.50 L707.48,53.14 L708.70,53.78 L709.93,54.42 L711.15,55.08 L712.37,55.75 L713.59,56.42 L714.82,57.10 L716.04,57.79 L717.26,58.49 L718.49,59.20 L719.71,59.92 L720.93,60.65 L722.16,61.39 L723.38,62.13 L724.60,62.89 L725.82,63.66 L727.05,64.44 L728.27,65.22 L729.49,66.02 L730.72,66.83 L731.94,67.65 L733.16,68.48 L734.39,69.32 L735.61,70.18 L736.83,71.04 L738.05,71.92 L739.28,72.81 L740.50,73.71 L741.72,74.62 L742.95,75.54 L744.17,76.48 L745.39,77.42 L746.61,78.38 L747.84,79.36 L749.06,80.34 L750.28,81.34 L751.51,82.35 L752.73,83.37 L753.95,84.41 L755.18,85.46 L756.40,86.52 L757.62,87.60 L758.84,88.69 L760.07,89.79 L761.29,90.91 L762.51,92.03 L763.74,93.18 L764.96,94.33 L766.18,95.50 L767.41,96.68 L768.63,97.88 L769.85,99.08 L771.07,100.31 L772.30,101.54 L773.52,102.79 L774.74,104.05 L775.97,105.32 L777.19,106.60 L778.41,107.90 L779.64,109.21 L780.86,110.54 L782.08,111.87 L783.30,113.22 L784.53,114.58 L785.75,115.95 L786.97,117.33 L788.20,118.73 L789.42,120.13 L790.64,121.55 L791.86,122.98 L793.09,124.42 L794.31,125.87 L795.53,127.33 L796.76,128.80 L797.98,130.27 L799.20,131.76 L800.43,133.26 L801.65,134.77 L802.87,136.29 L804.09,137.82 L805.32,139.35 L806.54,140.90 L807.76,142.45 L808.99,144.01 L810.21,145.58 L811.43,147.15 L812.66,148.73 L813.88,150.33 L815.10,151.92 L816.32,153.53 L817.55,155.14 L818.77,156.76 L819.99,158.38 L821.22,160.01 L822.44,161.65 L823.66,163.29 L824.89,164.93 L826.11,166.59 L827.33,168.25 L828.55,169.91 L829.78,171.58 L831.00,173.25 L832.22,174.93 L833.45,176.61 L834.67,178.30 L835.89,179.99 L837.11,181.68 L838.34,183.38 L839.56,185.08 L840.78,186.79 L842.01,188.50 L843.23,190.21 L844.45,191.93 L845.68,193.65 L846.90,195.38 L848.12,197.10 L849.34,198.83 L850.57,200.57 L851.79,202.31 L853.01,204.05 L854.24,205.79 L855.46,207.54 L856.68,209.29 L857.91,211.04 L859.13,212.80 L860.35,214.56 L861.57,216.33 L862.80,218.10 L864.02,219.87 L865.24,221.64 L866.47,223.42 L867.69,225.20 L868.91,226.99 L870.14,228.78 L871.36,230.58 L872.58,232.38 L873.80,234.18 L875.03,235.99 L876.25,237.81 L877.47,239.63 L878.70,241.45 L879.92,243.29 L881.14,245.13 L882.36,246.97 L883.59,248.83 L884.81,250.69 L886.03,252.56 L887.26,254.43 L888.48,256.32 L889.70,258.22 L890.93,260.12 L892.15,262.03 L893.37,263.96 L894.59,265.89 L895.82,267.84 L897.04,269.79 L898.26,271.76 L899.49,273.73 L900.71,275.72 L901.93,277.72 L903.16,279.72 L904.38,281.74 L905.60,283.77 L906.82,285.80 L908.05,287.85 L909.27,289.90 L910.49,291.96 L911.72,294.03 L912.94,296.10 L914.16,298.17 L915.39,300.25 L916.61,302.33 L917.83,304.40 L919.05,306.48 L920.28,308.56 L921.50,310.63 L922.72,312.70 L923.95,314.77 L925.17,316.83 L926.39,318.88 L927.61,320.92 L928.84,322.96 L930.06,324.98 L931.28,327.00 L932.51,329.01 L933.73,331.00 L934.95,332.99 L936.18,334.97 L937.40,336.94 L938.62,338.89 L939.84,340.84 L941.07,342.78 L942.29,344.71 L943.51,346.63 L944.74,348.54 L945.96,350.44 L947.18,352.33 L948.41,354.22 L949.63,356.10 L950.85,357.97 L952.07,359.84 L953.30,361.70 L954.52,363.55 L955.74,365.40 L956.97,367.24 L958.19,369.08 L959.41,370.92 L960.64,372.75 L961.86,374.58 L963.08,376.40 L964.30,378.22 L965.53,380.04 L966.75,381.85" fill="none" stroke="#2c7bb6" stroke-width="4.6" stroke-linejoin="round" stroke-linecap="butt"/>
<path d="M650.00,44.34 L651.22,44.73 L652.45,45.12 L653.67,45.51 L654.89,45.90 L656.11,46.30 L657.34,46.70 L658.56,47.11 L659.78,47.52 L661.01,47.93 L662.23,48.35 L663.45,48.78 L664.68,49.20 L665.90,49.63 L667.12,50.07 L668.34,50.51 L669.57,50.95 L670.79,51.40 L672.01,51.85 L673.24,52.31 L674.46,52.77 L675.68,53.24 L676.91,53.71 L678.13,54.19 L679.35,54.67 L680.57,55.16 L681.80,55.66 L683.02,56.15 L684.24,56.66 L685.47,57.17 L686.69,57.68 L687.91,58.21 L689.14,58.73 L690.36,59.27 L691.58,59.81 L692.80,60.35 L694.03,60.91 L695.25,61.47 L696.47,62.03 L697.70,62.61 L698.92,63.18 L700.14,63.77 L701.36,64.37 L702.59,64.97 L703.81,65.57 L705.03,66.19 L706.26,66.81 L707.48,67.45 L708.70,68.09 L709.93,68.73 L711.15,69.39 L712.37,70.05 L713.59,70.72 L714.82,71.41 L716.04,72.10 L717.26,72.80 L718.49,73.50 L719.71,74.22 L720.93,74.95 L722.16,75.68 L723.38,76.43 L724.60,77.19 L725.82,77.95 L727.05,78.73 L728.27,79.51 L729.49,80.31 L730.72,81.12 L731.94,81.94 L733.16,82.76 L734.39,83.60 L735.61,84.46 L736.83,85.32 L738.05,86.19 L739.28,87.08 L740.50,87.97 L741.72,88.88 L742.95,89.80 L744.17,90.74 L745.39,91.68 L746.61,92.64 L747.84,93.61 L749.06,94.59 L750.28,95.58 L751.51,96.59 L752.73,97.61 L753.95,98.65 L755.18,99.69 L756.40,100.75 L757.62,101.82 L758.84,102.91 L760.07,104.00 L761.29,105.11 L762.51,106.24 L763.74,107.37 L764.96,108.52 L766.18,109.69 L767.41,110.86 L768.63,112.05 L769.85,113.25 L771.07,114.46 L772.30,115.69 L773.52,116.93 L774.74,118.18 L775.97,119.45 L777.19,120.72 L778.41,122.01 L779.64,123.32 L780.86,124.63 L782.08,125.95 L783.30,127.29 L784.53,128.64 L785.75,130.00 L786.97,131.37 L788.20,132.75 L789.42,134.14 L790.64,135.55 L791.86,136.96 L793.09,138.39 L794.31,139.82 L795.53,141.26 L796.76,142.72 L797.98,144.18 L799.20,145.65 L800.43,147.14 L801.65,148.63 L802.87,150.12 L804.09,151.63 L805.32,153.15 L806.54,154.67 L807.76,156.20 L808.99,157.74 L810.21,159.28 L811.43,160.84 L812.66,162.39 L813.88,163.96 L815.10,165.53 L816.32,167.11 L817.55,168.70 L818.77,170.29 L819.99,171.88 L821.22,173.49 L822.44,175.09 L823.66,176.71 L824.89,178.32 L826.11,179.95 L827.33,181.57 L828.55,183.21 L829.78,184.84 L831.00,186.49 L832.22,188.13 L833.45,189.78 L834.67,191.44 L835.89,193.09 L837.11,194.76 L838.34,196.42 L839.56,198.09 L840.78,199.77 L842.01,201.44 L843.23,203.12 L844.45,204.81 L845.68,206.49 L846.90,208.18 L848.12,209.88 L849.34,211.57 L850.57,213.27 L851.79,214.98 L853.01,216.68 L854.24,218.39 L855.46,220.10 L856.68,221.82 L857.91,223.53 L859.13,225.25 L860.35,226.97 L861.57,228.70 L862.80,230.42 L864.02,232.15 L865.24,233.88 L866.47,235.61 L867.69,237.35 L868.91,239.09 L870.14,240.83 L871.36,242.57 L872.58,244.31 L873.80,246.05 L875.03,247.80 L876.25,249.55 L877.47,251.30 L878.70,253.05 L879.92,254.81 L881.14,256.56 L882.36,258.32 L883.59,260.08 L884.81,261.83 L886.03,263.60 L887.26,265.36 L888.48,267.12 L889.70,268.89 L890.93,270.66 L892.15,272.42 L893.37,274.20 L894.59,275.97 L895.82,277.74 L897.04,279.51 L898.26,281.29 L899.49,283.07 L900.71,284.85 L901.93,286.63 L903.16,288.41 L904.38,290.19 L905.60,291.98 L906.82,293.77 L908.05,295.56 L909.27,297.35 L910.49,299.14 L911.72,300.93 L912.94,302.73 L914.16,304.53 L915.39,306.33 L916.61,308.13 L917.83,309.94 L919.05,311.75 L920.28,313.56 L921.50,315.37 L922.72,317.18 L923.95,319.00 L925.17,320.82 L926.39,322.64 L927.61,324.47 L928.84,326.29 L930.06,328.12 L931.28,329.95 L932.51,331.78 L933.73,333.62 L934.95,335.45 L936.18,337.29 L937.40,339.13 L938.62,340.97 L939.84,342.81 L941.07,344.65 L942.29,346.49 L943.51,348.33 L944.74,350.18 L945.96,352.02 L947.18,353.86 L948.41,355.70 L949.63,357.53 L950.85,359.37 L952.07,361.21 L953.30,363.04 L954.52,364.87 L955.74,366.70 L956.97,368.53 L958.19,370.36 L959.41,372.19 L960.64,374.01 L961.86,375.83 L963.08,377.65 L964.30,379.46 L965.53,381.28 L966.75,383.09" fill="none" stroke="#abd9e9" stroke-width="4.6" stroke-linejoin="round" stroke-linecap="butt"/>
<path d="M650.00,70.20 L651.22,70.58 L652.45,70.97 L653.67,71.36 L654.89,71.76 L656.11,72.16 L657.34,72.56 L658.56,72.97 L659.78,73.38 L661.01,73.79 L662.23,74.21 L663.45,74.63 L664.68,75.06 L665.90,75.49 L667.12,75.92 L668.34,76.36 L669.57,76.81 L670.79,77.26 L672.01,77.71 L673.24,78.17 L674.46,78.63 L675.68,79.10 L676.91,79.57 L678.13,80.05 L679.35,80.53 L680.57,81.02 L681.80,81.52 L683.02,82.02 L684.24,82.52 L685.47,83.03 L686.69,83.55 L687.91,84.07 L689.14,84.60 L690.36,85.13 L691.58,85.67 L692.80,86.22 L694.03,86.77 L695.25,87.33 L696.47,87.90 L697.70,88.47 L698.92,89.05 L700.14,89.64 L701.36,90.23 L702.59,90.84 L703.81,91.44 L705.03,92.06 L706.26,92.69 L707.48,93.32 L708.70,93.96 L709.93,94.61 L711.15,95.26 L712.37,95.93 L713.59,96.60 L714.82,97.28 L716.04,97.97 L717.26,98.67 L718.49,99.38 L719.71,100.10 L720.93,100.83 L722.16,101.57 L723.38,102.31 L724.60,103.07 L725.82,103.84 L727.05,104.61 L728.27,105.40 L729.49,106.20 L730.72,107.01 L731.94,107.83 L733.16,108.66 L734.39,109.50 L735.61,110.35 L736.83,111.22 L738.05,112.09 L739.28,112.98 L740.50,113.88 L741.72,114.79 L742.95,115.71 L744.17,116.65 L745.39,117.59 L746.61,118.55 L747.84,119.52 L749.06,120.51 L750.28,121.51 L751.51,122.52 L752.73,123.54 L753.95,124.57 L755.18,125.62 L756.40,126.68 L757.62,127.76 L758.84,128.85 L760.07,129.95 L761.29,131.06 L762.51,132.19 L763.74,133.33 L764.96,134.48 L766.18,135.65 L767.41,136.83 L768.63,138.02 L769.85,139.23 L771.07,140.45 L772.30,141.68 L773.52,142.93 L774.74,144.19 L775.97,145.46 L777.19,146.74 L778.41,148.04 L779.64,149.34 L780.86,150.66 L782.08,152.00 L783.30,153.34 L784.53,154.70 L785.75,156.07 L786.97,157.45 L788.20,158.84 L789.42,160.24 L790.64,161.65 L791.86,163.08 L793.09,164.51 L794.31,165.96 L795.53,167.41 L796.76,168.88 L797.98,170.35 L799.20,171.84 L800.43,173.33 L801.65,174.83 L802.87,176.34 L804.09,177.87 L805.32,179.39 L806.54,180.93 L807.76,182.48 L808.99,184.03 L810.21,185.59 L811.43,187.16 L812.66,188.73 L813.88,190.31 L815.10,191.90 L816.32,193.50 L817.55,195.10 L818.77,196.71 L819.99,198.32 L821.22,199.94 L822.44,201.56 L823.66,203.19 L824.89,204.82 L826.11,206.46 L827.33,208.10 L828.55,209.75 L829.78,211.40 L831.00,213.06 L832.22,214.72 L833.45,216.38 L834.67,218.05 L835.89,219.72 L837.11,221.39 L838.34,223.07 L839.56,224.75 L840.78,226.43 L842.01,228.11 L843.23,229.80 L844.45,231.49 L845.68,233.18 L846.90,234.88 L848.12,236.57 L849.34,238.27 L850.57,239.97 L851.79,241.67 L853.01,243.37 L854.24,245.07 L855.46,246.78 L856.68,248.48 L857.91,250.19 L859.13,251.90 L860.35,253.61 L861.57,255.32 L862.80,257.03 L864.02,258.74 L865.24,260.45 L866.47,262.16 L867.69,263.88 L868.91,265.59 L870.14,267.31 L871.36,269.02 L872.58,270.74 L873.80,272.45 L875.03,274.17 L876.25,275.89 L877.47,277.61 L878.70,279.32 L879.92,281.04 L881.14,282.76 L882.36,284.48 L883.59,286.20 L884.81,287.92 L886.03,289.65 L887.26,291.37 L888.48,293.09 L889.70,294.82 L890.93,296.54 L892.15,298.27 L893.37,299.99 L894.59,301.72 L895.82,303.45 L897.04,305.17 L898.26,306.90 L899.49,308.63 L900.71,310.37 L901.93,312.10 L903.16,313.83 L904.38,315.56 L905.60,317.30 L906.82,319.04 L908.05,320.77 L909.27,322.51 L910.49,324.25 L911.72,325.99 L912.94,327.73 L914.16,329.47 L915.39,331.22 L916.61,332.96 L917.83,334.71 L919.05,336.45 L920.28,338.20 L921.50,339.95 L922.72,341.70 L923.95,343.45 L925.17,345.20 L926.39,346.96 L927.61,348.71 L928.84,350.47 L930.06,352.22 L931.28,353.98 L932.51,355.74 L933.73,357.49 L934.95,359.25 L936.18,361.02 L937.40,362.78 L938.62,364.54 L939.84,366.30 L941.07,368.07 L942.29,369.83 L943.51,371.60 L944.74,373.36 L945.96,375.13 L947.18,376.90 L948.41,378.67 L949.63,380.43 L950.85,382.20 L952.07,383.97 L953.30,385.74 L954.52,387.52 L955.74,389.29 L956.97,391.06 L958.19,392.83 L959.41,394.61 L960.64,396.38 L961.86,398.15 L963.08,399.93 L964.30,401.70 L965.53,403.48 L966.75,405.25" fill="none" stroke="#fdae61" stroke-width="4.6" stroke-linejoin="round" stroke-linecap="butt"/>
<path d="M650.00,89.41 L651.22,89.81 L652.45,90.23 L653.67,90.64 L654.89,91.06 L656.11,91.49 L657.34,91.91 L658.56,92.34 L659.78,92.78 L661.01,93.22 L662.23,93.66 L663.45,94.11 L664.68,94.56 L665.90,95.02 L667.12,95.48 L668.34,95.94 L669.57,96.41 L670.79,96.89 L672.01,97.36 L673.24,97.85 L674.46,98.34 L675.68,98.83 L676.91,99.33 L678.13,99.83 L679.35,100.34 L680.57,100.85 L681.80,101.37 L683.02,101.90 L684.24,102.43 L685.47,102.97 L686.69,103.51 L687.91,104.06 L689.14,104.61 L690.36,105.17 L691.58,105.74 L692.80,106.31 L694.03,106.89 L695.25,107.47 L696.47,108.07 L697.70,108.67 L698.92,109.27 L700.14,109.89 L701.36,110.51 L702.59,111.14 L703.81,111.77 L705.03,112.42 L706.26,113.07 L707.48,113.73 L708.70,114.39 L709.93,115.07 L711.15,115.75 L712.37,116.44 L713.59,117.15 L714.82,117.86 L716.04,118.57 L717.26,119.30 L718.49,120.04 L719.71,120.79 L720.93,121.54 L722.16,122.31 L723.38,123.08 L724.60,123.87 L725.82,124.67 L727.05,125.47 L728.27,126.29 L729.49,127.12 L730.72,127.95 L731.94,128.80 L733.16,129.66 L734.39,130.54 L735.61,131.42 L736.83,132.31 L738.05,133.22 L739.28,134.14 L740.50,135.07 L741.72,136.01 L742.95,136.97 L744.17,137.93 L745.39,138.91 L746.61,139.90 L747.84,140.91 L749.06,141.93 L750.28,142.96 L751.51,144.00 L752.73,145.06 L753.95,146.13 L755.18,147.21 L756.40,148.31 L757.62,149.42 L758.84,150.54 L760.07,151.68 L761.29,152.83 L762.51,153.99 L763.74,155.17 L764.96,156.36 L766.18,157.57 L767.41,158.78 L768.63,160.02 L769.85,161.26 L771.07,162.52 L772.30,163.79 L773.52,165.08 L774.74,166.38 L775.97,167.69 L777.19,169.01 L778.41,170.35 L779.64,171.70 L780.86,173.06 L782.08,174.44 L783.30,175.83 L784.53,177.23 L785.75,178.64 L786.97,180.06 L788.20,181.50 L789.42,182.95 L790.64,184.41 L791.86,185.88 L793.09,187.36 L794.31,188.85 L795.53,190.36 L796.76,191.87 L797.98,193.40 L799.20,194.93 L800.43,196.47 L801.65,198.03 L802.87,199.59 L804.09,201.16 L805.32,202.74 L806.54,204.33 L807.76,205.93 L808.99,207.54 L810.21,209.16 L811.43,210.78 L812.66,212.41 L813.88,214.05 L815.10,215.69 L816.32,217.35 L817.55,219.01 L818.77,220.67 L819.99,222.34 L821.22,224.02 L822.44,225.71 L823.66,227.40 L824.89,229.09 L826.11,230.80 L827.33,232.50 L828.55,234.21 L829.78,235.93 L831.00,237.65 L832.22,239.38 L833.45,241.11 L834.67,242.85 L835.89,244.59 L837.11,246.33 L838.34,248.07 L839.56,249.79 L840.78,251.49 L842.01,253.20 L843.23,254.91 L844.45,256.62 L845.68,258.33 L846.90,260.05 L848.12,261.77 L849.34,263.49 L850.57,265.22 L851.79,266.94 L853.01,268.67 L854.24,270.40 L855.46,272.14 L856.68,273.87 L857.91,275.61 L859.13,277.35 L860.35,279.09 L861.57,280.84 L862.80,282.58 L864.02,284.33 L865.24,286.08 L866.47,287.83 L867.69,289.58 L868.91,291.33 L870.14,293.09 L871.36,294.84 L872.58,296.60 L873.80,298.36 L875.03,300.12 L876.25,301.88 L877.47,303.64 L878.70,305.40 L879.92,307.16 L881.14,308.92 L882.36,310.69 L883.59,312.45 L884.81,314.22 L886.03,315.99 L887.26,317.76 L888.48,319.52 L889.70,321.29 L890.93,323.06 L892.15,324.83 L893.37,326.60 L894.59,328.37 L895.82,330.15 L897.04,331.92 L898.26,333.69 L899.49,335.47 L900.71,337.24 L901.93,339.01 L903.16,340.79 L904.38,342.56 L905.60,344.34 L906.82,346.11 L908.05,347.89 L909.27,349.67 L910.49,351.44 L911.72,353.22 L912.94,355.00 L914.16,356.78 L915.39,358.55 L916.61,360.33 L917.83,362.11 L919.05,363.89 L920.28,365.67 L921.50,367.45 L922.72,369.23 L923.95,371.01 L925.17,372.79 L926.39,374.57 L927.61,376.35 L928.84,378.13 L930.06,379.91 L931.28,381.69 L932.51,383.47 L933.73,385.25 L934.95,387.03 L936.18,388.81 L937.40,390.59 L938.62,392.37 L939.84,394.15 L941.07,395.93 L942.29,397.72 L943.51,399.50 L944.74,401.28 L945.96,403.06 L947.18,404.84 L948.41,406.63 L949.63,408.41 L950.85,410.19 L952.07,411.97 L953.30,413.75 L954.52,415.54 L955.74,417.32 L956.97,419.10 L958.19,420.88 L959.41,422.67 L960.64,424.45 L961.86,426.23 L963.08,428.01 L964.30,429.80 L965.53,431.58 L966.75,433.36" fill="none" stroke="#d7191c" stroke-width="4.6" stroke-linejoin="round" stroke-linecap="butt"/>
<line x1="651.96" y1="440.80" x2="651.96" y2="453.90" stroke="#000" stroke-width="1.35" />
<line x1="659.96" y1="440.80" x2="659.96" y2="453.90" stroke="#000" stroke-width="1.35" />
<line x1="663.18" y1="440.80" x2="663.18" y2="453.90" stroke="#000" stroke-width="1.35" />
<line x1="664.09" y1="440.80" x2="664.09" y2="453.90" stroke="#000" stroke-width="1.35" />
<line x1="673.02" y1="440.80" x2="673.02" y2="453.90" stroke="#000" stroke-width="1.35" />
<line x1="678.58" y1="440.80" x2="678.58" y2="453.90" stroke="#000" stroke-width="1.35" />
<line x1="683.83" y1="440.80" x2="683.83" y2="453.90" stroke="#000" stroke-width="1.35" />
<line x1="684.85" y1="440.80" x2="684.85" y2="453.90" stroke="#000" stroke-width="1.35" />
<line x1="686.12" y1="440.80" x2="686.12" y2="453.90" stroke="#000" stroke-width="1.35" />
<line x1="693.67" y1="440.80" x2="693.67" y2="453.90" stroke="#000" stroke-width="1.35" />
<line x1="699.03" y1="440.80" x2="699.03" y2="453.90" stroke="#000" stroke-width="1.35" />
<line x1="705.25" y1="440.80" x2="705.25" y2="453.90" stroke="#000" stroke-width="1.35" />
<line x1="706.11" y1="440.80" x2="706.11" y2="453.90" stroke="#000" stroke-width="1.35" />
<line x1="710.86" y1="440.80" x2="710.86" y2="453.90" stroke="#000" stroke-width="1.35" />
<line x1="711.72" y1="440.80" x2="711.72" y2="453.90" stroke="#000" stroke-width="1.35" />
<line x1="718.00" y1="440.80" x2="718.00" y2="453.90" stroke="#000" stroke-width="1.35" />
<line x1="718.86" y1="440.80" x2="718.86" y2="453.90" stroke="#000" stroke-width="1.35" />
<line x1="725.13" y1="440.80" x2="725.13" y2="453.90" stroke="#000" stroke-width="1.35" />
<line x1="728.19" y1="440.80" x2="728.19" y2="453.90" stroke="#000" stroke-width="1.35" />
<line x1="729.72" y1="440.80" x2="729.72" y2="453.90" stroke="#000" stroke-width="1.35" />
<line x1="734.46" y1="440.80" x2="734.46" y2="453.90" stroke="#000" stroke-width="1.35" />
<line x1="735.99" y1="440.80" x2="735.99" y2="453.90" stroke="#000" stroke-width="1.35" />
<line x1="737.27" y1="440.80" x2="737.27" y2="453.90" stroke="#000" stroke-width="1.35" />
<line x1="738.54" y1="440.80" x2="738.54" y2="453.90" stroke="#000" stroke-width="1.35" />
<line x1="742.37" y1="440.80" x2="742.37" y2="453.90" stroke="#000" stroke-width="1.35" />
<line x1="743.90" y1="440.80" x2="743.90" y2="453.90" stroke="#000" stroke-width="1.35" />
<line x1="745.43" y1="440.80" x2="745.43" y2="453.90" stroke="#000" stroke-width="1.35" />
<line x1="746.96" y1="440.80" x2="746.96" y2="453.90" stroke="#000" stroke-width="1.35" />
<line x1="750.27" y1="440.80" x2="750.27" y2="453.90" stroke="#000" stroke-width="1.35" />
<line x1="751.55" y1="440.80" x2="751.55" y2="453.90" stroke="#000" stroke-width="1.35" />
<line x1="753.08" y1="440.80" x2="753.08" y2="453.90" stroke="#000" stroke-width="1.35" />
<line x1="755.63" y1="440.80" x2="755.63" y2="453.90" stroke="#000" stroke-width="1.35" />
<line x1="760.47" y1="440.80" x2="760.47" y2="453.90" stroke="#000" stroke-width="1.35" />
<line x1="762.00" y1="440.80" x2="762.00" y2="453.90" stroke="#000" stroke-width="1.35" />
<line x1="763.79" y1="440.80" x2="763.79" y2="453.90" stroke="#000" stroke-width="1.35" />
<line x1="765.57" y1="440.80" x2="765.57" y2="453.90" stroke="#000" stroke-width="1.35" />
<line x1="766.85" y1="440.80" x2="766.85" y2="453.90" stroke="#000" stroke-width="1.35" />
<line x1="768.38" y1="440.80" x2="768.38" y2="453.90" stroke="#000" stroke-width="1.35" />
<line x1="769.91" y1="440.80" x2="769.91" y2="453.90" stroke="#000" stroke-width="1.35" />
<line x1="771.18" y1="440.80" x2="771.18" y2="453.90" stroke="#000" stroke-width="1.35" />
<line x1="773.22" y1="440.80" x2="773.22" y2="453.90" stroke="#000" stroke-width="1.35" />
<line x1="774.49" y1="440.80" x2="774.49" y2="453.90" stroke="#000" stroke-width="1.35" />
<line x1="776.02" y1="440.80" x2="776.02" y2="453.90" stroke="#000" stroke-width="1.35" />
<line x1="776.79" y1="440.80" x2="776.79" y2="453.90" stroke="#000" stroke-width="1.35" />
<line x1="780.10" y1="440.80" x2="780.10" y2="453.90" stroke="#000" stroke-width="1.35" />
<line x1="783.93" y1="440.80" x2="783.93" y2="453.90" stroke="#000" stroke-width="1.35" />
<line x1="791.07" y1="440.80" x2="791.07" y2="453.90" stroke="#000" stroke-width="1.35" />
<line x1="792.34" y1="440.80" x2="792.34" y2="453.90" stroke="#000" stroke-width="1.35" />
<line x1="793.87" y1="440.80" x2="793.87" y2="453.90" stroke="#000" stroke-width="1.35" />
<line x1="795.15" y1="440.80" x2="795.15" y2="453.90" stroke="#000" stroke-width="1.35" />
<line x1="797.44" y1="440.80" x2="797.44" y2="453.90" stroke="#000" stroke-width="1.35" />
<line x1="800.76" y1="440.80" x2="800.76" y2="453.90" stroke="#000" stroke-width="1.35" />
<line x1="805.09" y1="440.80" x2="805.09" y2="453.90" stroke="#000" stroke-width="1.35" />
<line x1="806.62" y1="440.80" x2="806.62" y2="453.90" stroke="#000" stroke-width="1.35" />
<line x1="807.90" y1="440.80" x2="807.90" y2="453.90" stroke="#000" stroke-width="1.35" />
<line x1="810.45" y1="440.80" x2="810.45" y2="453.90" stroke="#000" stroke-width="1.35" />
<line x1="811.98" y1="440.80" x2="811.98" y2="453.90" stroke="#000" stroke-width="1.35" />
<line x1="815.04" y1="440.80" x2="815.04" y2="453.90" stroke="#000" stroke-width="1.35" />
<line x1="816.57" y1="440.80" x2="816.57" y2="453.90" stroke="#000" stroke-width="1.35" />
<line x1="818.10" y1="440.80" x2="818.10" y2="453.90" stroke="#000" stroke-width="1.35" />
<line x1="819.12" y1="440.80" x2="819.12" y2="453.90" stroke="#000" stroke-width="1.35" />
<line x1="821.15" y1="440.80" x2="821.15" y2="453.90" stroke="#000" stroke-width="1.35" />
<line x1="822.68" y1="440.80" x2="822.68" y2="453.90" stroke="#000" stroke-width="1.35" />
<line x1="824.11" y1="440.80" x2="824.11" y2="453.90" stroke="#000" stroke-width="1.35" />
<line x1="825.64" y1="440.80" x2="825.64" y2="453.90" stroke="#000" stroke-width="1.35" />
<line x1="830.23" y1="440.80" x2="830.23" y2="453.90" stroke="#000" stroke-width="1.35" />
<line x1="835.58" y1="440.80" x2="835.58" y2="453.90" stroke="#000" stroke-width="1.35" />
<line x1="836.86" y1="440.80" x2="836.86" y2="453.90" stroke="#000" stroke-width="1.35" />
<line x1="838.39" y1="440.80" x2="838.39" y2="453.90" stroke="#000" stroke-width="1.35" />
<line x1="841.19" y1="440.80" x2="841.19" y2="453.90" stroke="#000" stroke-width="1.35" />
<line x1="844.25" y1="440.80" x2="844.25" y2="453.90" stroke="#000" stroke-width="1.35" />
<line x1="845.53" y1="440.80" x2="845.53" y2="453.90" stroke="#000" stroke-width="1.35" />
<line x1="846.80" y1="440.80" x2="846.80" y2="453.90" stroke="#000" stroke-width="1.35" />
<line x1="850.12" y1="440.80" x2="850.12" y2="453.90" stroke="#000" stroke-width="1.35" />
<line x1="851.39" y1="440.80" x2="851.39" y2="453.90" stroke="#000" stroke-width="1.35" />
<line x1="852.67" y1="440.80" x2="852.67" y2="453.90" stroke="#000" stroke-width="1.35" />
<line x1="854.20" y1="440.80" x2="854.20" y2="453.90" stroke="#000" stroke-width="1.35" />
<line x1="855.22" y1="440.80" x2="855.22" y2="453.90" stroke="#000" stroke-width="1.35" />
<line x1="856.75" y1="440.80" x2="856.75" y2="453.90" stroke="#000" stroke-width="1.35" />
<line x1="859.04" y1="440.80" x2="859.04" y2="453.90" stroke="#000" stroke-width="1.35" />
<line x1="860.06" y1="440.80" x2="860.06" y2="453.90" stroke="#000" stroke-width="1.35" />
<line x1="861.34" y1="440.80" x2="861.34" y2="453.90" stroke="#000" stroke-width="1.35" />
<line x1="863.12" y1="440.80" x2="863.12" y2="453.90" stroke="#000" stroke-width="1.35" />
<line x1="864.40" y1="440.80" x2="864.40" y2="453.90" stroke="#000" stroke-width="1.35" />
<line x1="865.67" y1="440.80" x2="865.67" y2="453.90" stroke="#000" stroke-width="1.35" />
<line x1="866.95" y1="440.80" x2="866.95" y2="453.90" stroke="#000" stroke-width="1.35" />
<line x1="868.99" y1="440.80" x2="868.99" y2="453.90" stroke="#000" stroke-width="1.35" />
<line x1="871.28" y1="440.80" x2="871.28" y2="453.90" stroke="#000" stroke-width="1.35" />
<line x1="875.87" y1="440.80" x2="875.87" y2="453.90" stroke="#000" stroke-width="1.35" />
<line x1="876.63" y1="440.80" x2="876.63" y2="453.90" stroke="#000" stroke-width="1.35" />
<line x1="880.97" y1="440.80" x2="880.97" y2="453.90" stroke="#000" stroke-width="1.35" />
<line x1="883.26" y1="440.80" x2="883.26" y2="453.90" stroke="#000" stroke-width="1.35" />
<line x1="884.54" y1="440.80" x2="884.54" y2="453.90" stroke="#000" stroke-width="1.35" />
<line x1="887.34" y1="440.80" x2="887.34" y2="453.90" stroke="#000" stroke-width="1.35" />
<line x1="888.62" y1="440.80" x2="888.62" y2="453.90" stroke="#000" stroke-width="1.35" />
<line x1="889.38" y1="440.80" x2="889.38" y2="453.90" stroke="#000" stroke-width="1.35" />
<line x1="891.42" y1="440.80" x2="891.42" y2="453.90" stroke="#000" stroke-width="1.35" />
<line x1="892.70" y1="440.80" x2="892.70" y2="453.90" stroke="#000" stroke-width="1.35" />
<line x1="893.97" y1="440.80" x2="893.97" y2="453.90" stroke="#000" stroke-width="1.35" />
<line x1="895.25" y1="440.80" x2="895.25" y2="453.90" stroke="#000" stroke-width="1.35" />
<line x1="896.52" y1="440.80" x2="896.52" y2="453.90" stroke="#000" stroke-width="1.35" />
<line x1="897.80" y1="440.80" x2="897.80" y2="453.90" stroke="#000" stroke-width="1.35" />
<line x1="899.07" y1="440.80" x2="899.07" y2="453.90" stroke="#000" stroke-width="1.35" />
<line x1="900.35" y1="440.80" x2="900.35" y2="453.90" stroke="#000" stroke-width="1.35" />
<line x1="901.37" y1="440.80" x2="901.37" y2="453.90" stroke="#000" stroke-width="1.35" />
<line x1="905.64" y1="440.80" x2="905.64" y2="453.90" stroke="#000" stroke-width="1.35" />
<line x1="906.66" y1="440.80" x2="906.66" y2="453.90" stroke="#000" stroke-width="1.35" />
<line x1="907.68" y1="440.80" x2="907.68" y2="453.90" stroke="#000" stroke-width="1.35" />
<line x1="912.52" y1="440.80" x2="912.52" y2="453.90" stroke="#000" stroke-width="1.35" />
<line x1="914.05" y1="440.80" x2="914.05" y2="453.90" stroke="#000" stroke-width="1.35" />
<line x1="915.84" y1="440.80" x2="915.84" y2="453.90" stroke="#000" stroke-width="1.35" />
<line x1="917.37" y1="440.80" x2="917.37" y2="453.90" stroke="#000" stroke-width="1.35" />
<line x1="920.43" y1="440.80" x2="920.43" y2="453.90" stroke="#000" stroke-width="1.35" />
<line x1="922.98" y1="440.80" x2="922.98" y2="453.90" stroke="#000" stroke-width="1.35" />
<line x1="926.04" y1="440.80" x2="926.04" y2="453.90" stroke="#000" stroke-width="1.35" />
<line x1="930.63" y1="440.80" x2="930.63" y2="453.90" stroke="#000" stroke-width="1.35" />
<line x1="931.65" y1="440.80" x2="931.65" y2="453.90" stroke="#000" stroke-width="1.35" />
<line x1="935.98" y1="440.80" x2="935.98" y2="453.90" stroke="#000" stroke-width="1.35" />
<line x1="954.34" y1="440.80" x2="954.34" y2="453.90" stroke="#000" stroke-width="1.35" />
<line x1="961.99" y1="440.80" x2="961.99" y2="453.90" stroke="#000" stroke-width="1.35" />
<line x1="964.03" y1="440.80" x2="964.03" y2="453.90" stroke="#000" stroke-width="1.35" />
<line x1="684.31" y1="9.50" x2="684.31" y2="16.62" stroke="#000" stroke-width="3.3" />
<line x1="684.31" y1="27.60" x2="684.31" y2="38.50" stroke="#000" stroke-width="3.3" />
<line x1="684.31" y1="49.48" x2="684.31" y2="60.38" stroke="#000" stroke-width="3.3" />
<line x1="684.31" y1="71.36" x2="684.31" y2="82.26" stroke="#000" stroke-width="3.3" />
<line x1="684.31" y1="93.24" x2="684.31" y2="104.14" stroke="#000" stroke-width="3.3" />
<line x1="684.31" y1="115.12" x2="684.31" y2="126.02" stroke="#000" stroke-width="3.3" />
<line x1="684.31" y1="137.00" x2="684.31" y2="147.90" stroke="#000" stroke-width="3.3" />
<line x1="684.31" y1="158.88" x2="684.31" y2="169.78" stroke="#000" stroke-width="3.3" />
<line x1="684.31" y1="180.76" x2="684.31" y2="191.66" stroke="#000" stroke-width="3.3" />
<line x1="684.31" y1="202.64" x2="684.31" y2="213.54" stroke="#000" stroke-width="3.3" />
<line x1="684.31" y1="224.52" x2="684.31" y2="235.42" stroke="#000" stroke-width="3.3" />
<line x1="684.31" y1="246.40" x2="684.31" y2="257.30" stroke="#000" stroke-width="3.3" />
<line x1="684.31" y1="268.28" x2="684.31" y2="279.18" stroke="#000" stroke-width="3.3" />
<line x1="684.31" y1="290.16" x2="684.31" y2="301.06" stroke="#000" stroke-width="3.3" />
<line x1="684.31" y1="312.04" x2="684.31" y2="322.94" stroke="#000" stroke-width="3.3" />
<line x1="684.31" y1="333.92" x2="684.31" y2="344.82" stroke="#000" stroke-width="3.3" />
<line x1="684.31" y1="355.80" x2="684.31" y2="366.70" stroke="#000" stroke-width="3.3" />
<line x1="684.31" y1="377.68" x2="684.31" y2="388.58" stroke="#000" stroke-width="3.3" />
<line x1="684.31" y1="399.56" x2="684.31" y2="410.46" stroke="#000" stroke-width="3.3" />
<line x1="684.31" y1="421.44" x2="684.31" y2="432.34" stroke="#000" stroke-width="3.3" />
<line x1="684.31" y1="443.32" x2="684.31" y2="453.90" stroke="#000" stroke-width="3.3" />
<line x1="888.41" y1="9.50" x2="888.41" y2="16.62" stroke="#000" stroke-width="3.3" />
<line x1="888.41" y1="27.60" x2="888.41" y2="38.50" stroke="#000" stroke-width="3.3" />
<line x1="888.41" y1="49.48" x2="888.41" y2="60.38" stroke="#000" stroke-width="3.3" />
<line x1="888.41" y1="71.36" x2="888.41" y2="82.26" stroke="#000" stroke-width="3.3" />
<line x1="888.41" y1="93.24" x2="888.41" y2="104.14" stroke="#000" stroke-width="3.3" />
<line x1="888.41" y1="115.12" x2="888.41" y2="126.02" stroke="#000" stroke-width="3.3" />
<line x1="888.41" y1="137.00" x2="888.41" y2="147.90" stroke="#000" stroke-width="3.3" />
<line x1="888.41" y1="158.88" x2="888.41" y2="169.78" stroke="#000" stroke-width="3.3" />
<line x1="888.41" y1="180.76" x2="888.41" y2="191.66" stroke="#000" stroke-width="3.3" />
<line x1="888.41" y1="202.64" x2="888.41" y2="213.54" stroke="#000" stroke-width="3.3" />
<line x1="888.41" y1="224.52" x2="888.41" y2="235.42" stroke="#000" stroke-width="3.3" />
<line x1="888.41" y1="246.40" x2="888.41" y2="257.30" stroke="#000" stroke-width="3.3" />
<line x1="888.41" y1="268.28" x2="888.41" y2="279.18" stroke="#000" stroke-width="3.3" />
<line x1="888.41" y1="290.16" x2="888.41" y2="301.06" stroke="#000" stroke-width="3.3" />
<line x1="888.41" y1="312.04" x2="888.41" y2="322.94" stroke="#000" stroke-width="3.3" />
<line x1="888.41" y1="333.92" x2="888.41" y2="344.82" stroke="#000" stroke-width="3.3" />
<line x1="888.41" y1="355.80" x2="888.41" y2="366.70" stroke="#000" stroke-width="3.3" />
<line x1="888.41" y1="377.68" x2="888.41" y2="388.58" stroke="#000" stroke-width="3.3" />
<line x1="888.41" y1="399.56" x2="888.41" y2="410.46" stroke="#000" stroke-width="3.3" />
<line x1="888.41" y1="421.44" x2="888.41" y2="432.34" stroke="#000" stroke-width="3.3" />
<line x1="888.41" y1="443.32" x2="888.41" y2="453.90" stroke="#000" stroke-width="3.3" />
<text transform="translate(726.91,50.20) rotate(-90) scale(1,1.066)" font-size="29.9" text-anchor="middle">LIC</text>
<text transform="translate(932.01,50.20) rotate(-90) scale(1,1.066)" font-size="29.9" text-anchor="middle">HIC</text>
<line x1="634.00" y1="9.50" x2="634.00" y2="454.80" stroke="#000" stroke-width="1.8" />
<line x1="633.10" y1="453.90" x2="982.30" y2="453.90" stroke="#000" stroke-width="1.8" />
<line x1="635.95" y1="453.90" x2="635.95" y2="462.50" stroke="#111" stroke-width="1.4" />
<line x1="640.19" y1="453.90" x2="640.19" y2="462.50" stroke="#111" stroke-width="1.4" />
<line x1="643.86" y1="453.90" x2="643.86" y2="462.50" stroke="#111" stroke-width="1.4" />
<line x1="647.10" y1="453.90" x2="647.10" y2="462.50" stroke="#111" stroke-width="1.4" />
<line x1="650.00" y1="453.90" x2="650.00" y2="465.60" stroke="#333333" stroke-width="4.3" />
<line x1="669.07" y1="453.90" x2="669.07" y2="462.50" stroke="#111" stroke-width="1.4" />
<line x1="680.23" y1="453.90" x2="680.23" y2="462.50" stroke="#111" stroke-width="1.4" />
<line x1="688.14" y1="453.90" x2="688.14" y2="462.50" stroke="#111" stroke-width="1.4" />
<line x1="694.28" y1="453.90" x2="694.28" y2="462.50" stroke="#111" stroke-width="1.4" />
<line x1="699.30" y1="453.90" x2="699.30" y2="462.50" stroke="#111" stroke-width="1.4" />
<line x1="703.54" y1="453.90" x2="703.54" y2="462.50" stroke="#111" stroke-width="1.4" />
<line x1="707.21" y1="453.90" x2="707.21" y2="462.50" stroke="#111" stroke-width="1.4" />
<line x1="710.45" y1="453.90" x2="710.45" y2="462.50" stroke="#111" stroke-width="1.4" />
<line x1="713.35" y1="453.90" x2="713.35" y2="465.60" stroke="#333333" stroke-width="4.3" />
<line x1="732.42" y1="453.90" x2="732.42" y2="462.50" stroke="#111" stroke-width="1.4" />
<line x1="743.58" y1="453.90" x2="743.58" y2="462.50" stroke="#111" stroke-width="1.4" />
<line x1="751.49" y1="453.90" x2="751.49" y2="462.50" stroke="#111" stroke-width="1.4" />
<line x1="757.63" y1="453.90" x2="757.63" y2="462.50" stroke="#111" stroke-width="1.4" />
<line x1="762.65" y1="453.90" x2="762.65" y2="462.50" stroke="#111" stroke-width="1.4" />
<line x1="766.89" y1="453.90" x2="766.89" y2="462.50" stroke="#111" stroke-width="1.4" />
<line x1="770.56" y1="453.90" x2="770.56" y2="462.50" stroke="#111" stroke-width="1.4" />
<line x1="773.80" y1="453.90" x2="773.80" y2="462.50" stroke="#111" stroke-width="1.4" />
<line x1="776.70" y1="453.90" x2="776.70" y2="465.60" stroke="#333333" stroke-width="4.3" />
<line x1="795.77" y1="453.90" x2="795.77" y2="462.50" stroke="#111" stroke-width="1.4" />
<line x1="806.93" y1="453.90" x2="806.93" y2="462.50" stroke="#111" stroke-width="1.4" />
<line x1="814.84" y1="453.90" x2="814.84" y2="462.50" stroke="#111" stroke-width="1.4" />
<line x1="820.98" y1="453.90" x2="820.98" y2="462.50" stroke="#111" stroke-width="1.4" />
<line x1="826.00" y1="453.90" x2="826.00" y2="462.50" stroke="#111" stroke-width="1.4" />
<line x1="830.24" y1="453.90" x2="830.24" y2="462.50" stroke="#111" stroke-width="1.4" />
<line x1="833.91" y1="453.90" x2="833.91" y2="462.50" stroke="#111" stroke-width="1.4" />
<line x1="837.15" y1="453.90" x2="837.15" y2="462.50" stroke="#111" stroke-width="1.4" />
<line x1="840.05" y1="453.90" x2="840.05" y2="465.60" stroke="#333333" stroke-width="4.3" />
<line x1="859.12" y1="453.90" x2="859.12" y2="462.50" stroke="#111" stroke-width="1.4" />
<line x1="870.28" y1="453.90" x2="870.28" y2="462.50" stroke="#111" stroke-width="1.4" />
<line x1="878.19" y1="453.90" x2="878.19" y2="462.50" stroke="#111" stroke-width="1.4" />
<line x1="884.33" y1="453.90" x2="884.33" y2="462.50" stroke="#111" stroke-width="1.4" />
<line x1="889.35" y1="453.90" x2="889.35" y2="462.50" stroke="#111" stroke-width="1.4" />
<line x1="893.59" y1="453.90" x2="893.59" y2="462.50" stroke="#111" stroke-width="1.4" />
<line x1="897.26" y1="453.90" x2="897.26" y2="462.50" stroke="#111" stroke-width="1.4" />
<line x1="900.50" y1="453.90" x2="900.50" y2="462.50" stroke="#111" stroke-width="1.4" />
<line x1="903.40" y1="453.90" x2="903.40" y2="465.60" stroke="#333333" stroke-width="4.3" />
<line x1="922.47" y1="453.90" x2="922.47" y2="462.50" stroke="#111" stroke-width="1.4" />
<line x1="933.63" y1="453.90" x2="933.63" y2="462.50" stroke="#111" stroke-width="1.4" />
<line x1="941.54" y1="453.90" x2="941.54" y2="462.50" stroke="#111" stroke-width="1.4" />
<line x1="947.68" y1="453.90" x2="947.68" y2="462.50" stroke="#111" stroke-width="1.4" />
<line x1="952.70" y1="453.90" x2="952.70" y2="462.50" stroke="#111" stroke-width="1.4" />
<line x1="956.94" y1="453.90" x2="956.94" y2="462.50" stroke="#111" stroke-width="1.4" />
<line x1="960.61" y1="453.90" x2="960.61" y2="462.50" stroke="#111" stroke-width="1.4" />
<line x1="963.85" y1="453.90" x2="963.85" y2="462.50" stroke="#111" stroke-width="1.4" />
<line x1="966.75" y1="453.90" x2="966.75" y2="465.60" stroke="#333333" stroke-width="4.3" />
<line x1="624.70" y1="449.61" x2="634.00" y2="449.61" stroke="#111" stroke-width="1.5" />
<line x1="624.70" y1="438.07" x2="634.00" y2="438.07" stroke="#111" stroke-width="1.5" />
<line x1="624.70" y1="429.12" x2="634.00" y2="429.12" stroke="#111" stroke-width="1.5" />
<line x1="624.70" y1="421.80" x2="634.00" y2="421.80" stroke="#111" stroke-width="1.5" />
<line x1="624.70" y1="415.61" x2="634.00" y2="415.61" stroke="#111" stroke-width="1.5" />
<line x1="624.70" y1="410.25" x2="634.00" y2="410.25" stroke="#111" stroke-width="1.5" />
<line x1="624.70" y1="405.53" x2="634.00" y2="405.53" stroke="#111" stroke-width="1.5" />
<line x1="622.20" y1="401.30" x2="634.00" y2="401.30" stroke="#333333" stroke-width="4.3" />
<line x1="624.70" y1="373.48" x2="634.00" y2="373.48" stroke="#111" stroke-width="1.5" />
<line x1="624.70" y1="357.21" x2="634.00" y2="357.21" stroke="#111" stroke-width="1.5" />
<line x1="624.70" y1="345.67" x2="634.00" y2="345.67" stroke="#111" stroke-width="1.5" />
<line x1="624.70" y1="336.72" x2="634.00" y2="336.72" stroke="#111" stroke-width="1.5" />
<line x1="624.70" y1="329.40" x2="634.00" y2="329.40" stroke="#111" stroke-width="1.5" />
<line x1="624.70" y1="323.21" x2="634.00" y2="323.21" stroke="#111" stroke-width="1.5" />
<line x1="624.70" y1="317.85" x2="634.00" y2="317.85" stroke="#111" stroke-width="1.5" />
<line x1="624.70" y1="313.13" x2="634.00" y2="313.13" stroke="#111" stroke-width="1.5" />
<line x1="622.20" y1="308.90" x2="634.00" y2="308.90" stroke="#333333" stroke-width="4.3" />
<line x1="624.70" y1="281.08" x2="634.00" y2="281.08" stroke="#111" stroke-width="1.5" />
<line x1="624.70" y1="264.81" x2="634.00" y2="264.81" stroke="#111" stroke-width="1.5" />
<line x1="624.70" y1="253.27" x2="634.00" y2="253.27" stroke="#111" stroke-width="1.5" />
<line x1="624.70" y1="244.32" x2="634.00" y2="244.32" stroke="#111" stroke-width="1.5" />
<line x1="624.70" y1="237.00" x2="634.00" y2="237.00" stroke="#111" stroke-width="1.5" />
<line x1="624.70" y1="230.81" x2="634.00" y2="230.81" stroke="#111" stroke-width="1.5" />
<line x1="624.70" y1="225.45" x2="634.00" y2="225.45" stroke="#111" stroke-width="1.5" />
<line x1="624.70" y1="220.73" x2="634.00" y2="220.73" stroke="#111" stroke-width="1.5" />
<line x1="622.20" y1="216.50" x2="634.00" y2="216.50" stroke="#333333" stroke-width="4.3" />
<line x1="624.70" y1="188.68" x2="634.00" y2="188.68" stroke="#111" stroke-width="1.5" />
<line x1="624.70" y1="172.41" x2="634.00" y2="172.41" stroke="#111" stroke-width="1.5" />
<line x1="624.70" y1="160.87" x2="634.00" y2="160.87" stroke="#111" stroke-width="1.5" />
<line x1="624.70" y1="151.92" x2="634.00" y2="151.92" stroke="#111" stroke-width="1.5" />
<line x1="624.70" y1="144.60" x2="634.00" y2="144.60" stroke="#111" stroke-width="1.5" />
<line x1="624.70" y1="138.41" x2="634.00" y2="138.41" stroke="#111" stroke-width="1.5" />
<line x1="624.70" y1="133.05" x2="634.00" y2="133.05" stroke="#111" stroke-width="1.5" />
<line x1="624.70" y1="128.33" x2="634.00" y2="128.33" stroke="#111" stroke-width="1.5" />
<line x1="622.20" y1="124.10" x2="634.00" y2="124.10" stroke="#333333" stroke-width="4.3" />
<line x1="624.70" y1="96.28" x2="634.00" y2="96.28" stroke="#111" stroke-width="1.5" />
<line x1="624.70" y1="80.01" x2="634.00" y2="80.01" stroke="#111" stroke-width="1.5" />
<line x1="624.70" y1="68.47" x2="634.00" y2="68.47" stroke="#111" stroke-width="1.5" />
<line x1="624.70" y1="59.52" x2="634.00" y2="59.52" stroke="#111" stroke-width="1.5" />
<line x1="624.70" y1="52.20" x2="634.00" y2="52.20" stroke="#111" stroke-width="1.5" />
<line x1="624.70" y1="46.01" x2="634.00" y2="46.01" stroke="#111" stroke-width="1.5" />
<line x1="624.70" y1="40.65" x2="634.00" y2="40.65" stroke="#111" stroke-width="1.5" />
<line x1="624.70" y1="35.93" x2="634.00" y2="35.93" stroke="#111" stroke-width="1.5" />
<line x1="622.20" y1="31.70" x2="634.00" y2="31.70" stroke="#333333" stroke-width="4.3" />
<text transform="translate(651.00,505.10) scale(1,1.066)" font-size="29.9" text-anchor="middle">10<tspan font-size="20.2" dy="-14.2">−2</tspan></text>
<text transform="translate(714.35,505.10) scale(1,1.066)" font-size="29.9" text-anchor="middle">10<tspan font-size="20.2" dy="-14.2">−1</tspan></text>
<text transform="translate(777.70,505.10) scale(1,1.066)" font-size="29.9" text-anchor="middle">10<tspan font-size="20.2" dy="-14.2">0</tspan></text>
<text transform="translate(841.05,505.10) scale(1,1.066)" font-size="29.9" text-anchor="middle">10<tspan font-size="20.2" dy="-14.2">1</tspan></text>
<text transform="translate(904.40,505.10) scale(1,1.066)" font-size="29.9" text-anchor="middle">10<tspan font-size="20.2" dy="-14.2">2</tspan></text>
<text transform="translate(967.75,505.10) scale(1,1.066)" font-size="29.9" text-anchor="middle">10<tspan font-size="20.2" dy="-14.2">3</tspan></text>
<text transform="translate(613.30,415.70) scale(1,1.066)" font-size="29.9" text-anchor="end">10<tspan font-size="20.2" dy="-14.2">−2</tspan></text>
<text transform="translate(613.30,323.30) scale(1,1.066)" font-size="29.9" text-anchor="end">10<tspan font-size="20.2" dy="-14.2">−1</tspan></text>
<text transform="translate(613.30,230.90) scale(1,1.066)" font-size="29.9" text-anchor="end">10<tspan font-size="20.2" dy="-14.2">0</tspan></text>
<text transform="translate(613.30,138.50) scale(1,1.066)" font-size="29.9" text-anchor="end">10<tspan font-size="20.2" dy="-14.2">1</tspan></text>
<text transform="translate(613.30,46.10) scale(1,1.066)" font-size="29.9" text-anchor="end">10<tspan font-size="20.2" dy="-14.2">2</tspan></text>
<text x="808.00" y="544.50" font-size="29.9" text-anchor="middle" >Sequencing rate (S/M/wk)</text>
<text transform="translate(504.70,231.00) rotate(-90)" font-size="29.9" text-anchor="middle">Reduction in time to detection</text>
<text transform="translate(537.80,231.00) rotate(-90)" font-size="29.9" text-anchor="middle">per S/M/wk added (d)</text>
<text x="965.00" y="25.80" font-size="35" text-anchor="start" font-weight="bold">c</text>
<path d="M1115.90,156.13 L1117.89,157.89 L1119.88,159.65 L1121.88,161.41 L1123.87,163.17 L1125.86,164.94 L1127.85,166.70 L1129.84,168.46 L1131.83,170.22 L1133.83,171.98 L1135.82,173.74 L1137.81,175.50 L1139.80,177.26 L1141.79,179.02 L1143.79,180.78 L1145.78,182.54 L1147.77,184.30 L1149.76,186.05 L1151.75,187.81 L1153.74,189.57 L1155.74,191.33 L1157.73,193.09 L1159.72,194.84 L1161.71,196.60 L1163.70,198.36 L1165.70,200.12 L1167.69,201.87 L1169.68,203.63 L1171.67,205.38 L1173.66,207.14 L1175.65,208.90 L1177.65,210.65 L1179.64,212.41 L1181.63,214.16 L1183.62,215.91 L1185.61,217.67 L1187.61,219.42 L1189.60,221.18 L1191.59,222.93 L1193.58,224.68 L1195.57,226.44 L1197.56,228.19 L1199.56,229.94 L1201.55,231.70 L1203.54,233.45 L1205.53,235.20 L1207.52,236.95 L1209.52,238.70 L1211.51,240.45 L1213.50,242.21 L1215.49,243.96 L1217.48,245.71 L1219.47,247.46 L1221.47,249.21 L1223.46,250.96 L1225.45,252.71 L1227.44,254.46 L1229.43,256.21 L1231.43,257.95 L1233.42,259.70 L1235.41,261.45 L1237.40,263.20 L1239.39,264.95 L1241.38,266.70 L1243.38,268.44 L1245.37,270.19 L1247.36,271.94 L1249.35,273.68 L1251.34,275.43 L1253.34,277.18 L1255.33,278.92 L1257.32,280.67 L1259.31,282.42 L1261.30,284.16 L1263.29,285.91 L1265.29,287.65 L1267.28,289.40 L1269.27,291.14 L1271.26,292.88 L1273.25,294.63 L1275.25,296.37 L1277.24,298.12 L1279.23,299.86 L1281.22,301.60 L1283.21,303.34 L1285.21,305.09 L1287.20,306.83 L1289.19,308.57 L1291.18,310.31 L1293.17,312.06 L1295.16,313.80 L1297.16,315.54 L1299.15,317.28 L1301.14,319.02 L1303.13,320.76 L1305.12,322.50 L1307.12,324.24 L1309.11,325.98 L1311.10,327.72 L1313.09,329.46 L1315.08,331.20 L1317.07,332.94 L1319.07,334.68 L1321.06,336.41 L1323.05,338.15 L1325.04,339.89 L1327.03,341.63 L1329.03,343.36 L1331.02,345.10 L1333.01,346.84 L1335.00,348.58 L1336.99,350.31 L1338.98,352.05 L1340.98,353.78 L1342.97,355.52 L1344.96,357.26 L1346.95,358.99 L1348.94,360.73 L1350.94,362.46 L1352.93,364.20 L1354.92,365.93 L1356.91,367.66 L1358.90,369.40 L1360.89,371.13 L1362.89,372.87 L1364.88,374.60 L1366.87,376.33 L1368.86,378.06 L1370.85,379.80 L1372.85,381.53 L1374.84,383.26 L1376.83,384.99 L1378.82,386.72 L1380.81,388.46 L1382.80,390.19 L1384.80,391.92 L1386.79,393.65 L1388.78,395.38 L1390.77,397.11 L1392.76,398.84 L1394.76,400.57 L1396.75,402.30 L1398.74,404.03 L1400.73,405.76 L1402.72,407.48 L1404.71,409.21 L1406.71,410.94 L1408.70,412.67 L1410.69,414.40 L1412.68,416.12 L1414.67,417.85 L1416.67,419.58 L1418.66,421.31 L1420.65,423.03 L1422.64,424.76 L1424.63,426.48 L1426.62,428.21 L1428.62,429.94 L1430.61,431.66 L1432.60,433.39" fill="none" stroke="#2c7bb6" stroke-width="4.6" stroke-linejoin="round" stroke-linecap="butt"/>
<path d="M1115.90,108.04 L1117.89,109.77 L1119.88,111.51 L1121.88,113.25 L1123.87,114.99 L1125.86,116.74 L1127.85,118.48 L1129.84,120.23 L1131.83,121.98 L1133.83,123.73 L1135.82,125.49 L1137.81,127.24 L1139.80,129.00 L1141.79,130.76 L1143.79,132.52 L1145.78,134.29 L1147.77,136.05 L1149.76,137.82 L1151.75,139.59 L1153.74,141.36 L1155.74,143.14 L1157.73,144.91 L1159.72,146.69 L1161.71,148.47 L1163.70,150.25 L1165.70,152.04 L1167.69,153.82 L1169.68,155.61 L1171.67,157.40 L1173.66,159.19 L1175.65,160.98 L1177.65,162.78 L1179.64,164.58 L1181.63,166.38 L1183.62,168.18 L1185.61,169.98 L1187.61,171.79 L1189.60,173.60 L1191.59,175.41 L1193.58,177.22 L1195.57,179.03 L1197.56,180.85 L1199.56,182.66 L1201.55,184.48 L1203.54,186.30 L1205.53,188.13 L1207.52,189.95 L1209.52,191.78 L1211.51,193.61 L1213.50,195.44 L1215.49,197.27 L1217.48,199.11 L1219.47,200.94 L1221.47,202.78 L1223.46,204.63 L1225.45,206.47 L1227.44,208.31 L1229.43,210.16 L1231.43,212.01 L1233.42,213.86 L1235.41,215.71 L1237.40,217.57 L1239.39,219.42 L1241.38,221.28 L1243.38,223.14 L1245.37,225.01 L1247.36,226.87 L1249.35,228.74 L1251.34,230.61 L1253.34,232.48 L1255.33,234.35 L1257.32,236.23 L1259.31,238.10 L1261.30,239.98 L1263.29,241.86 L1265.29,243.74 L1267.28,245.63 L1269.27,247.52 L1271.26,249.40 L1273.25,251.30 L1275.25,253.19 L1277.24,255.08 L1279.23,256.98 L1281.22,258.88 L1283.21,260.78 L1285.21,262.68 L1287.20,264.58 L1289.19,266.49 L1291.18,268.40 L1293.17,270.31 L1295.16,272.22 L1297.16,274.14 L1299.15,276.05 L1301.14,277.97 L1303.13,279.89 L1305.12,281.81 L1307.12,283.74 L1309.11,285.66 L1311.10,287.59 L1313.09,289.52 L1315.08,291.45 L1317.07,293.39 L1319.07,295.32 L1321.06,297.26 L1323.05,299.20 L1325.04,301.14 L1327.03,303.09 L1329.03,305.03 L1331.02,306.98 L1333.01,308.93 L1335.00,310.88 L1336.99,312.84 L1338.98,314.79 L1340.98,316.75 L1342.97,318.71 L1344.96,320.67 L1346.95,322.64 L1348.94,324.60 L1350.94,326.57 L1352.93,328.54 L1354.92,330.51 L1356.91,332.48 L1358.90,334.46 L1360.89,336.44 L1362.89,338.42 L1364.88,340.40 L1366.87,342.38 L1368.86,344.37 L1370.85,346.35 L1372.85,348.34 L1374.84,350.34 L1376.83,352.33 L1378.82,354.32 L1380.81,356.32 L1382.80,358.32 L1384.80,360.32 L1386.79,362.33 L1388.78,364.33 L1390.77,366.34 L1392.76,368.35 L1394.76,370.36 L1396.75,372.37 L1398.74,374.39 L1400.73,376.40 L1402.72,378.42 L1404.71,380.44 L1406.71,382.47 L1408.70,384.49 L1410.69,386.52 L1412.68,388.55 L1414.67,390.58 L1416.67,392.61 L1418.66,394.65 L1420.65,396.68 L1422.64,398.72 L1424.63,400.76 L1426.62,402.81 L1428.62,404.85 L1430.61,406.90 L1432.60,408.95" fill="none" stroke="#abd9e9" stroke-width="4.6" stroke-linejoin="round" stroke-linecap="butt"/>
<path d="M1115.90,51.80 L1117.89,53.60 L1119.88,55.40 L1121.88,57.21 L1123.87,59.02 L1125.86,60.83 L1127.85,62.64 L1129.84,64.45 L1131.83,66.27 L1133.83,68.09 L1135.82,69.90 L1137.81,71.72 L1139.80,73.54 L1141.79,75.37 L1143.79,77.19 L1145.78,79.02 L1147.77,80.84 L1149.76,82.67 L1151.75,84.50 L1153.74,86.34 L1155.74,88.17 L1157.73,90.01 L1159.72,91.84 L1161.71,93.68 L1163.70,95.52 L1165.70,97.37 L1167.69,99.21 L1169.68,101.05 L1171.67,102.90 L1173.66,104.75 L1175.65,106.60 L1177.65,108.45 L1179.64,110.30 L1181.63,112.16 L1183.62,114.02 L1185.61,115.87 L1187.61,117.73 L1189.60,119.60 L1191.59,121.46 L1193.58,123.32 L1195.57,125.19 L1197.56,127.06 L1199.56,128.93 L1201.55,130.80 L1203.54,132.67 L1205.53,134.55 L1207.52,136.42 L1209.52,138.30 L1211.51,140.18 L1213.50,142.06 L1215.49,143.94 L1217.48,145.83 L1219.47,147.71 L1221.47,149.60 L1223.46,151.49 L1225.45,153.38 L1227.44,155.27 L1229.43,157.17 L1231.43,159.06 L1233.42,160.96 L1235.41,162.86 L1237.40,164.76 L1239.39,166.66 L1241.38,168.57 L1243.38,170.47 L1245.37,172.38 L1247.36,174.29 L1249.35,176.20 L1251.34,178.11 L1253.34,180.02 L1255.33,181.94 L1257.32,183.86 L1259.31,185.77 L1261.30,187.69 L1263.29,189.62 L1265.29,191.54 L1267.28,193.46 L1269.27,195.39 L1271.26,197.32 L1273.25,199.25 L1275.25,201.18 L1277.24,203.12 L1279.23,205.05 L1281.22,206.99 L1283.21,208.92 L1285.21,210.86 L1287.20,212.81 L1289.19,214.75 L1291.18,216.69 L1293.17,218.64 L1295.16,220.59 L1297.16,222.54 L1299.15,224.49 L1301.14,226.44 L1303.13,228.40 L1305.12,230.35 L1307.12,232.31 L1309.11,234.27 L1311.10,236.23 L1313.09,238.20 L1315.08,240.16 L1317.07,242.13 L1319.07,244.09 L1321.06,246.06 L1323.05,248.03 L1325.04,250.01 L1327.03,251.98 L1329.03,253.96 L1331.02,255.94 L1333.01,257.92 L1335.00,259.90 L1336.99,261.88 L1338.98,263.86 L1340.98,265.85 L1342.97,267.84 L1344.96,269.83 L1346.95,271.82 L1348.94,273.81 L1350.94,275.80 L1352.93,277.80 L1354.92,279.80 L1356.91,281.80 L1358.90,283.80 L1360.89,285.80 L1362.89,287.81 L1364.88,289.81 L1366.87,291.82 L1368.86,293.83 L1370.85,295.84 L1372.85,297.85 L1374.84,299.87 L1376.83,301.88 L1378.82,303.90 L1380.81,305.92 L1382.80,307.94 L1384.80,309.96 L1386.79,311.99 L1388.78,314.01 L1390.77,316.04 L1392.76,318.07 L1394.76,320.10 L1396.75,322.13 L1398.74,324.17 L1400.73,326.20 L1402.72,328.24 L1404.71,330.28 L1406.71,332.32 L1408.70,334.36 L1410.69,336.41 L1412.68,338.45 L1414.67,340.50 L1416.67,342.55 L1418.66,344.60 L1420.65,346.65 L1422.64,348.71 L1424.63,350.76 L1426.62,352.82 L1428.62,354.88 L1430.61,356.94 L1432.60,359.00" fill="none" stroke="#fdae61" stroke-width="4.6" stroke-linejoin="round" stroke-linecap="butt"/>
<path d="M1115.90,30.42 L1117.89,31.54 L1119.88,32.70 L1121.88,33.92 L1123.87,35.18 L1125.86,36.49 L1127.85,37.85 L1129.84,39.25 L1131.83,40.70 L1133.83,42.20 L1135.82,43.75 L1137.81,45.34 L1139.80,46.97 L1141.79,48.66 L1143.79,50.38 L1145.78,52.14 L1147.77,53.94 L1149.76,55.77 L1151.75,57.63 L1153.74,59.52 L1155.74,61.42 L1157.73,63.34 L1159.72,65.28 L1161.71,67.23 L1163.70,69.19 L1165.70,71.15 L1167.69,73.11 L1169.68,75.07 L1171.67,77.02 L1173.66,78.96 L1175.65,80.89 L1177.65,82.80 L1179.64,84.70 L1181.63,86.58 L1183.62,88.45 L1185.61,90.31 L1187.61,92.15 L1189.60,93.98 L1191.59,95.80 L1193.58,97.60 L1195.57,99.40 L1197.56,101.19 L1199.56,102.96 L1201.55,104.73 L1203.54,106.48 L1205.53,108.23 L1207.52,109.97 L1209.52,111.71 L1211.51,113.43 L1213.50,115.15 L1215.49,116.86 L1217.48,118.57 L1219.47,120.28 L1221.47,121.97 L1223.46,123.67 L1225.45,125.36 L1227.44,127.05 L1229.43,128.73 L1231.43,130.42 L1233.42,132.10 L1235.41,133.78 L1237.40,135.46 L1239.39,137.14 L1241.38,138.82 L1243.38,140.51 L1245.37,142.19 L1247.36,143.88 L1249.35,145.56 L1251.34,147.26 L1253.34,148.95 L1255.33,150.65 L1257.32,152.35 L1259.31,154.05 L1261.30,155.76 L1263.29,157.47 L1265.29,159.18 L1267.28,160.90 L1269.27,162.61 L1271.26,164.33 L1273.25,166.05 L1275.25,167.78 L1277.24,169.51 L1279.23,171.24 L1281.22,172.97 L1283.21,174.70 L1285.21,176.43 L1287.20,178.17 L1289.19,179.91 L1291.18,181.65 L1293.17,183.39 L1295.16,185.14 L1297.16,186.88 L1299.15,188.63 L1301.14,190.38 L1303.13,192.13 L1305.12,193.88 L1307.12,195.63 L1309.11,197.38 L1311.10,199.13 L1313.09,200.89 L1315.08,202.64 L1317.07,204.40 L1319.07,206.16 L1321.06,207.91 L1323.05,209.67 L1325.04,211.43 L1327.03,213.19 L1329.03,214.95 L1331.02,216.71 L1333.01,218.47 L1335.00,220.23 L1336.99,221.98 L1338.98,223.74 L1340.98,225.50 L1342.97,227.26 L1344.96,229.02 L1346.95,230.78 L1348.94,232.54 L1350.94,234.29 L1352.93,236.05 L1354.92,237.80 L1356.91,239.56 L1358.90,241.31 L1360.89,243.07 L1362.89,244.82 L1364.88,246.57 L1366.87,248.32 L1368.86,250.07 L1370.85,251.82 L1372.85,253.56 L1374.84,255.31 L1376.83,257.05 L1378.82,258.79 L1380.81,260.53 L1382.80,262.27 L1384.80,264.00 L1386.79,265.74 L1388.78,267.47 L1390.77,269.20 L1392.76,270.93 L1394.76,272.65 L1396.75,274.38 L1398.74,276.10 L1400.73,277.82 L1402.72,279.53 L1404.71,281.25 L1406.71,282.96 L1408.70,284.67 L1410.69,286.37 L1412.68,288.07 L1414.67,289.77 L1416.67,291.47 L1418.66,293.16 L1420.65,294.85 L1422.64,296.54 L1424.63,298.22 L1426.62,299.90 L1428.62,301.58 L1430.61,303.25 L1432.60,304.92" fill="none" stroke="#d7191c" stroke-width="4.6" stroke-linejoin="round" stroke-linecap="butt"/>
<line x1="1118.36" y1="440.80" x2="1118.36" y2="453.90" stroke="#000" stroke-width="1.35" />
<line x1="1126.36" y1="440.80" x2="1126.36" y2="453.90" stroke="#000" stroke-width="1.35" />
<line x1="1129.58" y1="440.80" x2="1129.58" y2="453.90" stroke="#000" stroke-width="1.35" />
<line x1="1130.49" y1="440.80" x2="1130.49" y2="453.90" stroke="#000" stroke-width="1.35" />
<line x1="1139.42" y1="440.80" x2="1139.42" y2="453.90" stroke="#000" stroke-width="1.35" />
<line x1="1144.98" y1="440.80" x2="1144.98" y2="453.90" stroke="#000" stroke-width="1.35" />
<line x1="1150.23" y1="440.80" x2="1150.23" y2="453.90" stroke="#000" stroke-width="1.35" />
<line x1="1151.25" y1="440.80" x2="1151.25" y2="453.90" stroke="#000" stroke-width="1.35" />
<line x1="1152.52" y1="440.80" x2="1152.52" y2="453.90" stroke="#000" stroke-width="1.35" />
<line x1="1160.07" y1="440.80" x2="1160.07" y2="453.90" stroke="#000" stroke-width="1.35" />
<line x1="1165.43" y1="440.80" x2="1165.43" y2="453.90" stroke="#000" stroke-width="1.35" />
<line x1="1171.65" y1="440.80" x2="1171.65" y2="453.90" stroke="#000" stroke-width="1.35" />
<line x1="1172.51" y1="440.80" x2="1172.51" y2="453.90" stroke="#000" stroke-width="1.35" />
<line x1="1177.26" y1="440.80" x2="1177.26" y2="453.90" stroke="#000" stroke-width="1.35" />
<line x1="1178.12" y1="440.80" x2="1178.12" y2="453.90" stroke="#000" stroke-width="1.35" />
<line x1="1184.40" y1="440.80" x2="1184.40" y2="453.90" stroke="#000" stroke-width="1.35" />
<line x1="1185.26" y1="440.80" x2="1185.26" y2="453.90" stroke="#000" stroke-width="1.35" />
<line x1="1191.53" y1="440.80" x2="1191.53" y2="453.90" stroke="#000" stroke-width="1.35" />
<line x1="1194.59" y1="440.80" x2="1194.59" y2="453.90" stroke="#000" stroke-width="1.35" />
<line x1="1196.12" y1="440.80" x2="1196.12" y2="453.90" stroke="#000" stroke-width="1.35" />
<line x1="1200.86" y1="440.80" x2="1200.86" y2="453.90" stroke="#000" stroke-width="1.35" />
<line x1="1202.39" y1="440.80" x2="1202.39" y2="453.90" stroke="#000" stroke-width="1.35" />
<line x1="1203.67" y1="440.80" x2="1203.67" y2="453.90" stroke="#000" stroke-width="1.35" />
<line x1="1204.94" y1="440.80" x2="1204.94" y2="453.90" stroke="#000" stroke-width="1.35" />
<line x1="1208.77" y1="440.80" x2="1208.77" y2="453.90" stroke="#000" stroke-width="1.35" />
<line x1="1210.30" y1="440.80" x2="1210.30" y2="453.90" stroke="#000" stroke-width="1.35" />
<line x1="1211.83" y1="440.80" x2="1211.83" y2="453.90" stroke="#000" stroke-width="1.35" />
<line x1="1213.36" y1="440.80" x2="1213.36" y2="453.90" stroke="#000" stroke-width="1.35" />
<line x1="1216.67" y1="440.80" x2="1216.67" y2="453.90" stroke="#000" stroke-width="1.35" />
<line x1="1217.95" y1="440.80" x2="1217.95" y2="453.90" stroke="#000" stroke-width="1.35" />
<line x1="1219.48" y1="440.80" x2="1219.48" y2="453.90" stroke="#000" stroke-width="1.35" />
<line x1="1222.03" y1="440.80" x2="1222.03" y2="453.90" stroke="#000" stroke-width="1.35" />
<line x1="1226.87" y1="440.80" x2="1226.87" y2="453.90" stroke="#000" stroke-width="1.35" />
<line x1="1228.40" y1="440.80" x2="1228.40" y2="453.90" stroke="#000" stroke-width="1.35" />
<line x1="1230.19" y1="440.80" x2="1230.19" y2="453.90" stroke="#000" stroke-width="1.35" />
<line x1="1231.97" y1="440.80" x2="1231.97" y2="453.90" stroke="#000" stroke-width="1.35" />
<line x1="1233.25" y1="440.80" x2="1233.25" y2="453.90" stroke="#000" stroke-width="1.35" />
<line x1="1234.78" y1="440.80" x2="1234.78" y2="453.90" stroke="#000" stroke-width="1.35" />
<line x1="1236.31" y1="440.80" x2="1236.31" y2="453.90" stroke="#000" stroke-width="1.35" />
<line x1="1237.58" y1="440.80" x2="1237.58" y2="453.90" stroke="#000" stroke-width="1.35" />
<line x1="1239.62" y1="440.80" x2="1239.62" y2="453.90" stroke="#000" stroke-width="1.35" />
<line x1="1240.89" y1="440.80" x2="1240.89" y2="453.90" stroke="#000" stroke-width="1.35" />
<line x1="1242.42" y1="440.80" x2="1242.42" y2="453.90" stroke="#000" stroke-width="1.35" />
<line x1="1243.19" y1="440.80" x2="1243.19" y2="453.90" stroke="#000" stroke-width="1.35" />
<line x1="1246.50" y1="440.80" x2="1246.50" y2="453.90" stroke="#000" stroke-width="1.35" />
<line x1="1250.33" y1="440.80" x2="1250.33" y2="453.90" stroke="#000" stroke-width="1.35" />
<line x1="1257.47" y1="440.80" x2="1257.47" y2="453.90" stroke="#000" stroke-width="1.35" />
<line x1="1258.74" y1="440.80" x2="1258.74" y2="453.90" stroke="#000" stroke-width="1.35" />
<line x1="1260.27" y1="440.80" x2="1260.27" y2="453.90" stroke="#000" stroke-width="1.35" />
<line x1="1261.55" y1="440.80" x2="1261.55" y2="453.90" stroke="#000" stroke-width="1.35" />
<line x1="1263.84" y1="440.80" x2="1263.84" y2="453.90" stroke="#000" stroke-width="1.35" />
<line x1="1267.16" y1="440.80" x2="1267.16" y2="453.90" stroke="#000" stroke-width="1.35" />
<line x1="1271.49" y1="440.80" x2="1271.49" y2="453.90" stroke="#000" stroke-width="1.35" />
<line x1="1273.02" y1="440.80" x2="1273.02" y2="453.90" stroke="#000" stroke-width="1.35" />
<line x1="1274.30" y1="440.80" x2="1274.30" y2="453.90" stroke="#000" stroke-width="1.35" />
<line x1="1276.85" y1="440.80" x2="1276.85" y2="453.90" stroke="#000" stroke-width="1.35" />
<line x1="1278.38" y1="440.80" x2="1278.38" y2="453.90" stroke="#000" stroke-width="1.35" />
<line x1="1281.44" y1="440.80" x2="1281.44" y2="453.90" stroke="#000" stroke-width="1.35" />
<line x1="1282.97" y1="440.80" x2="1282.97" y2="453.90" stroke="#000" stroke-width="1.35" />
<line x1="1284.50" y1="440.80" x2="1284.50" y2="453.90" stroke="#000" stroke-width="1.35" />
<line x1="1285.52" y1="440.80" x2="1285.52" y2="453.90" stroke="#000" stroke-width="1.35" />
<line x1="1287.55" y1="440.80" x2="1287.55" y2="453.90" stroke="#000" stroke-width="1.35" />
<line x1="1289.08" y1="440.80" x2="1289.08" y2="453.90" stroke="#000" stroke-width="1.35" />
<line x1="1290.51" y1="440.80" x2="1290.51" y2="453.90" stroke="#000" stroke-width="1.35" />
<line x1="1292.04" y1="440.80" x2="1292.04" y2="453.90" stroke="#000" stroke-width="1.35" />
<line x1="1296.63" y1="440.80" x2="1296.63" y2="453.90" stroke="#000" stroke-width="1.35" />
<line x1="1301.98" y1="440.80" x2="1301.98" y2="453.90" stroke="#000" stroke-width="1.35" />
<line x1="1303.26" y1="440.80" x2="1303.26" y2="453.90" stroke="#000" stroke-width="1.35" />
<line x1="1304.79" y1="440.80" x2="1304.79" y2="453.90" stroke="#000" stroke-width="1.35" />
<line x1="1307.59" y1="440.80" x2="1307.59" y2="453.90" stroke="#000" stroke-width="1.35" />
<line x1="1310.65" y1="440.80" x2="1310.65" y2="453.90" stroke="#000" stroke-width="1.35" />
<line x1="1311.93" y1="440.80" x2="1311.93" y2="453.90" stroke="#000" stroke-width="1.35" />
<line x1="1313.20" y1="440.80" x2="1313.20" y2="453.90" stroke="#000" stroke-width="1.35" />
<line x1="1316.52" y1="440.80" x2="1316.52" y2="453.90" stroke="#000" stroke-width="1.35" />
<line x1="1317.79" y1="440.80" x2="1317.79" y2="453.90" stroke="#000" stroke-width="1.35" />
<line x1="1319.07" y1="440.80" x2="1319.07" y2="453.90" stroke="#000" stroke-width="1.35" />
<line x1="1320.60" y1="440.80" x2="1320.60" y2="453.90" stroke="#000" stroke-width="1.35" />
<line x1="1321.62" y1="440.80" x2="1321.62" y2="453.90" stroke="#000" stroke-width="1.35" />
<line x1="1323.15" y1="440.80" x2="1323.15" y2="453.90" stroke="#000" stroke-width="1.35" />
<line x1="1325.44" y1="440.80" x2="1325.44" y2="453.90" stroke="#000" stroke-width="1.35" />
<line x1="1326.46" y1="440.80" x2="1326.46" y2="453.90" stroke="#000" stroke-width="1.35" />
<line x1="1327.74" y1="440.80" x2="1327.74" y2="453.90" stroke="#000" stroke-width="1.35" />
<line x1="1329.52" y1="440.80" x2="1329.52" y2="453.90" stroke="#000" stroke-width="1.35" />
<line x1="1330.80" y1="440.80" x2="1330.80" y2="453.90" stroke="#000" stroke-width="1.35" />
<line x1="1332.07" y1="440.80" x2="1332.07" y2="453.90" stroke="#000" stroke-width="1.35" />
<line x1="1333.35" y1="440.80" x2="1333.35" y2="453.90" stroke="#000" stroke-width="1.35" />
<line x1="1335.39" y1="440.80" x2="1335.39" y2="453.90" stroke="#000" stroke-width="1.35" />
<line x1="1337.68" y1="440.80" x2="1337.68" y2="453.90" stroke="#000" stroke-width="1.35" />
<line x1="1342.27" y1="440.80" x2="1342.27" y2="453.90" stroke="#000" stroke-width="1.35" />
<line x1="1343.03" y1="440.80" x2="1343.03" y2="453.90" stroke="#000" stroke-width="1.35" />
<line x1="1347.37" y1="440.80" x2="1347.37" y2="453.90" stroke="#000" stroke-width="1.35" />
<line x1="1349.66" y1="440.80" x2="1349.66" y2="453.90" stroke="#000" stroke-width="1.35" />
<line x1="1350.94" y1="440.80" x2="1350.94" y2="453.90" stroke="#000" stroke-width="1.35" />
<line x1="1353.74" y1="440.80" x2="1353.74" y2="453.90" stroke="#000" stroke-width="1.35" />
<line x1="1355.02" y1="440.80" x2="1355.02" y2="453.90" stroke="#000" stroke-width="1.35" />
<line x1="1355.78" y1="440.80" x2="1355.78" y2="453.90" stroke="#000" stroke-width="1.35" />
<line x1="1357.82" y1="440.80" x2="1357.82" y2="453.90" stroke="#000" stroke-width="1.35" />
<line x1="1359.10" y1="440.80" x2="1359.10" y2="453.90" stroke="#000" stroke-width="1.35" />
<line x1="1360.37" y1="440.80" x2="1360.37" y2="453.90" stroke="#000" stroke-width="1.35" />
<line x1="1361.65" y1="440.80" x2="1361.65" y2="453.90" stroke="#000" stroke-width="1.35" />
<line x1="1362.92" y1="440.80" x2="1362.92" y2="453.90" stroke="#000" stroke-width="1.35" />
<line x1="1364.20" y1="440.80" x2="1364.20" y2="453.90" stroke="#000" stroke-width="1.35" />
<line x1="1365.47" y1="440.80" x2="1365.47" y2="453.90" stroke="#000" stroke-width="1.35" />
<line x1="1366.75" y1="440.80" x2="1366.75" y2="453.90" stroke="#000" stroke-width="1.35" />
<line x1="1367.77" y1="440.80" x2="1367.77" y2="453.90" stroke="#000" stroke-width="1.35" />
<line x1="1372.04" y1="440.80" x2="1372.04" y2="453.90" stroke="#000" stroke-width="1.35" />
<line x1="1373.06" y1="440.80" x2="1373.06" y2="453.90" stroke="#000" stroke-width="1.35" />
<line x1="1374.08" y1="440.80" x2="1374.08" y2="453.90" stroke="#000" stroke-width="1.35" />
<line x1="1378.92" y1="440.80" x2="1378.92" y2="453.90" stroke="#000" stroke-width="1.35" />
<line x1="1380.45" y1="440.80" x2="1380.45" y2="453.90" stroke="#000" stroke-width="1.35" />
<line x1="1382.24" y1="440.80" x2="1382.24" y2="453.90" stroke="#000" stroke-width="1.35" />
<line x1="1383.77" y1="440.80" x2="1383.77" y2="453.90" stroke="#000" stroke-width="1.35" />
<line x1="1386.83" y1="440.80" x2="1386.83" y2="453.90" stroke="#000" stroke-width="1.35" />
<line x1="1389.38" y1="440.80" x2="1389.38" y2="453.90" stroke="#000" stroke-width="1.35" />
<line x1="1392.44" y1="440.80" x2="1392.44" y2="453.90" stroke="#000" stroke-width="1.35" />
<line x1="1397.03" y1="440.80" x2="1397.03" y2="453.90" stroke="#000" stroke-width="1.35" />
<line x1="1398.05" y1="440.80" x2="1398.05" y2="453.90" stroke="#000" stroke-width="1.35" />
<line x1="1402.38" y1="440.80" x2="1402.38" y2="453.90" stroke="#000" stroke-width="1.35" />
<line x1="1420.74" y1="440.80" x2="1420.74" y2="453.90" stroke="#000" stroke-width="1.35" />
<line x1="1428.39" y1="440.80" x2="1428.39" y2="453.90" stroke="#000" stroke-width="1.35" />
<line x1="1430.43" y1="440.80" x2="1430.43" y2="453.90" stroke="#000" stroke-width="1.35" />
<line x1="1150.81" y1="9.50" x2="1150.81" y2="16.62" stroke="#000" stroke-width="3.3" />
<line x1="1150.81" y1="27.60" x2="1150.81" y2="38.50" stroke="#000" stroke-width="3.3" />
<line x1="1150.81" y1="49.48" x2="1150.81" y2="60.38" stroke="#000" stroke-width="3.3" />
<line x1="1150.81" y1="71.36" x2="1150.81" y2="82.26" stroke="#000" stroke-width="3.3" />
<line x1="1150.81" y1="93.24" x2="1150.81" y2="104.14" stroke="#000" stroke-width="3.3" />
<line x1="1150.81" y1="115.12" x2="1150.81" y2="126.02" stroke="#000" stroke-width="3.3" />
<line x1="1150.81" y1="137.00" x2="1150.81" y2="147.90" stroke="#000" stroke-width="3.3" />
<line x1="1150.81" y1="158.88" x2="1150.81" y2="169.78" stroke="#000" stroke-width="3.3" />
<line x1="1150.81" y1="180.76" x2="1150.81" y2="191.66" stroke="#000" stroke-width="3.3" />
<line x1="1150.81" y1="202.64" x2="1150.81" y2="213.54" stroke="#000" stroke-width="3.3" />
<line x1="1150.81" y1="224.52" x2="1150.81" y2="235.42" stroke="#000" stroke-width="3.3" />
<line x1="1150.81" y1="246.40" x2="1150.81" y2="257.30" stroke="#000" stroke-width="3.3" />
<line x1="1150.81" y1="268.28" x2="1150.81" y2="279.18" stroke="#000" stroke-width="3.3" />
<line x1="1150.81" y1="290.16" x2="1150.81" y2="301.06" stroke="#000" stroke-width="3.3" />
<line x1="1150.81" y1="312.04" x2="1150.81" y2="322.94" stroke="#000" stroke-width="3.3" />
<line x1="1150.81" y1="333.92" x2="1150.81" y2="344.82" stroke="#000" stroke-width="3.3" />
<line x1="1150.81" y1="355.80" x2="1150.81" y2="366.70" stroke="#000" stroke-width="3.3" />
<line x1="1150.81" y1="377.68" x2="1150.81" y2="388.58" stroke="#000" stroke-width="3.3" />
<line x1="1150.81" y1="399.56" x2="1150.81" y2="410.46" stroke="#000" stroke-width="3.3" />
<line x1="1150.81" y1="421.44" x2="1150.81" y2="432.34" stroke="#000" stroke-width="3.3" />
<line x1="1150.81" y1="443.32" x2="1150.81" y2="453.90" stroke="#000" stroke-width="3.3" />
<line x1="1354.91" y1="9.50" x2="1354.91" y2="16.62" stroke="#000" stroke-width="3.3" />
<line x1="1354.91" y1="27.60" x2="1354.91" y2="38.50" stroke="#000" stroke-width="3.3" />
<line x1="1354.91" y1="49.48" x2="1354.91" y2="60.38" stroke="#000" stroke-width="3.3" />
<line x1="1354.91" y1="71.36" x2="1354.91" y2="82.26" stroke="#000" stroke-width="3.3" />
<line x1="1354.91" y1="93.24" x2="1354.91" y2="104.14" stroke="#000" stroke-width="3.3" />
<line x1="1354.91" y1="115.12" x2="1354.91" y2="126.02" stroke="#000" stroke-width="3.3" />
<line x1="1354.91" y1="137.00" x2="1354.91" y2="147.90" stroke="#000" stroke-width="3.3" />
<line x1="1354.91" y1="158.88" x2="1354.91" y2="169.78" stroke="#000" stroke-width="3.3" />
<line x1="1354.91" y1="180.76" x2="1354.91" y2="191.66" stroke="#000" stroke-width="3.3" />
<line x1="1354.91" y1="202.64" x2="1354.91" y2="213.54" stroke="#000" stroke-width="3.3" />
<line x1="1354.91" y1="224.52" x2="1354.91" y2="235.42" stroke="#000" stroke-width="3.3" />
<line x1="1354.91" y1="246.40" x2="1354.91" y2="257.30" stroke="#000" stroke-width="3.3" />
<line x1="1354.91" y1="268.28" x2="1354.91" y2="279.18" stroke="#000" stroke-width="3.3" />
<line x1="1354.91" y1="290.16" x2="1354.91" y2="301.06" stroke="#000" stroke-width="3.3" />
<line x1="1354.91" y1="312.04" x2="1354.91" y2="322.94" stroke="#000" stroke-width="3.3" />
<line x1="1354.91" y1="333.92" x2="1354.91" y2="344.82" stroke="#000" stroke-width="3.3" />
<line x1="1354.91" y1="355.80" x2="1354.91" y2="366.70" stroke="#000" stroke-width="3.3" />
<line x1="1354.91" y1="377.68" x2="1354.91" y2="388.58" stroke="#000" stroke-width="3.3" />
<line x1="1354.91" y1="399.56" x2="1354.91" y2="410.46" stroke="#000" stroke-width="3.3" />
<line x1="1354.91" y1="421.44" x2="1354.91" y2="432.34" stroke="#000" stroke-width="3.3" />
<line x1="1354.91" y1="443.32" x2="1354.91" y2="453.90" stroke="#000" stroke-width="3.3" />
<text transform="translate(1193.41,50.20) rotate(-90) scale(1,1.066)" font-size="29.9" text-anchor="middle">LIC</text>
<text transform="translate(1398.51,50.20) rotate(-90) scale(1,1.066)" font-size="29.9" text-anchor="middle">HIC</text>
<line x1="1100.80" y1="9.50" x2="1100.80" y2="454.80" stroke="#000" stroke-width="1.8" />
<line x1="1099.90" y1="453.90" x2="1448.80" y2="453.90" stroke="#000" stroke-width="1.8" />
<line x1="1102.45" y1="453.90" x2="1102.45" y2="462.50" stroke="#111" stroke-width="1.4" />
<line x1="1106.69" y1="453.90" x2="1106.69" y2="462.50" stroke="#111" stroke-width="1.4" />
<line x1="1110.36" y1="453.90" x2="1110.36" y2="462.50" stroke="#111" stroke-width="1.4" />
<line x1="1113.60" y1="453.90" x2="1113.60" y2="462.50" stroke="#111" stroke-width="1.4" />
<line x1="1116.50" y1="453.90" x2="1116.50" y2="465.60" stroke="#333333" stroke-width="4.3" />
<line x1="1135.57" y1="453.90" x2="1135.57" y2="462.50" stroke="#111" stroke-width="1.4" />
<line x1="1146.73" y1="453.90" x2="1146.73" y2="462.50" stroke="#111" stroke-width="1.4" />
<line x1="1154.64" y1="453.90" x2="1154.64" y2="462.50" stroke="#111" stroke-width="1.4" />
<line x1="1160.78" y1="453.90" x2="1160.78" y2="462.50" stroke="#111" stroke-width="1.4" />
<line x1="1165.80" y1="453.90" x2="1165.80" y2="462.50" stroke="#111" stroke-width="1.4" />
<line x1="1170.04" y1="453.90" x2="1170.04" y2="462.50" stroke="#111" stroke-width="1.4" />
<line x1="1173.71" y1="453.90" x2="1173.71" y2="462.50" stroke="#111" stroke-width="1.4" />
<line x1="1176.95" y1="453.90" x2="1176.95" y2="462.50" stroke="#111" stroke-width="1.4" />
<line x1="1179.85" y1="453.90" x2="1179.85" y2="465.60" stroke="#333333" stroke-width="4.3" />
<line x1="1198.92" y1="453.90" x2="1198.92" y2="462.50" stroke="#111" stroke-width="1.4" />
<line x1="1210.08" y1="453.90" x2="1210.08" y2="462.50" stroke="#111" stroke-width="1.4" />
<line x1="1217.99" y1="453.90" x2="1217.99" y2="462.50" stroke="#111" stroke-width="1.4" />
<line x1="1224.13" y1="453.90" x2="1224.13" y2="462.50" stroke="#111" stroke-width="1.4" />
<line x1="1229.15" y1="453.90" x2="1229.15" y2="462.50" stroke="#111" stroke-width="1.4" />
<line x1="1233.39" y1="453.90" x2="1233.39" y2="462.50" stroke="#111" stroke-width="1.4" />
<line x1="1237.06" y1="453.90" x2="1237.06" y2="462.50" stroke="#111" stroke-width="1.4" />
<line x1="1240.30" y1="453.90" x2="1240.30" y2="462.50" stroke="#111" stroke-width="1.4" />
<line x1="1243.20" y1="453.90" x2="1243.20" y2="465.60" stroke="#333333" stroke-width="4.3" />
<line x1="1262.27" y1="453.90" x2="1262.27" y2="462.50" stroke="#111" stroke-width="1.4" />
<line x1="1273.43" y1="453.90" x2="1273.43" y2="462.50" stroke="#111" stroke-width="1.4" />
<line x1="1281.34" y1="453.90" x2="1281.34" y2="462.50" stroke="#111" stroke-width="1.4" />
<line x1="1287.48" y1="453.90" x2="1287.48" y2="462.50" stroke="#111" stroke-width="1.4" />
<line x1="1292.50" y1="453.90" x2="1292.50" y2="462.50" stroke="#111" stroke-width="1.4" />
<line x1="1296.74" y1="453.90" x2="1296.74" y2="462.50" stroke="#111" stroke-width="1.4" />
<line x1="1300.41" y1="453.90" x2="1300.41" y2="462.50" stroke="#111" stroke-width="1.4" />
<line x1="1303.65" y1="453.90" x2="1303.65" y2="462.50" stroke="#111" stroke-width="1.4" />
<line x1="1306.55" y1="453.90" x2="1306.55" y2="465.60" stroke="#333333" stroke-width="4.3" />
<line x1="1325.62" y1="453.90" x2="1325.62" y2="462.50" stroke="#111" stroke-width="1.4" />
<line x1="1336.78" y1="453.90" x2="1336.78" y2="462.50" stroke="#111" stroke-width="1.4" />
<line x1="1344.69" y1="453.90" x2="1344.69" y2="462.50" stroke="#111" stroke-width="1.4" />
<line x1="1350.83" y1="453.90" x2="1350.83" y2="462.50" stroke="#111" stroke-width="1.4" />
<line x1="1355.85" y1="453.90" x2="1355.85" y2="462.50" stroke="#111" stroke-width="1.4" />
<line x1="1360.09" y1="453.90" x2="1360.09" y2="462.50" stroke="#111" stroke-width="1.4" />
<line x1="1363.76" y1="453.90" x2="1363.76" y2="462.50" stroke="#111" stroke-width="1.4" />
<line x1="1367.00" y1="453.90" x2="1367.00" y2="462.50" stroke="#111" stroke-width="1.4" />
<line x1="1369.90" y1="453.90" x2="1369.90" y2="465.60" stroke="#333333" stroke-width="4.3" />
<line x1="1388.97" y1="453.90" x2="1388.97" y2="462.50" stroke="#111" stroke-width="1.4" />
<line x1="1400.13" y1="453.90" x2="1400.13" y2="462.50" stroke="#111" stroke-width="1.4" />
<line x1="1408.04" y1="453.90" x2="1408.04" y2="462.50" stroke="#111" stroke-width="1.4" />
<line x1="1414.18" y1="453.90" x2="1414.18" y2="462.50" stroke="#111" stroke-width="1.4" />
<line x1="1419.20" y1="453.90" x2="1419.20" y2="462.50" stroke="#111" stroke-width="1.4" />
<line x1="1423.44" y1="453.90" x2="1423.44" y2="462.50" stroke="#111" stroke-width="1.4" />
<line x1="1427.11" y1="453.90" x2="1427.11" y2="462.50" stroke="#111" stroke-width="1.4" />
<line x1="1430.35" y1="453.90" x2="1430.35" y2="462.50" stroke="#111" stroke-width="1.4" />
<line x1="1433.25" y1="453.90" x2="1433.25" y2="465.60" stroke="#333333" stroke-width="4.3" />
<line x1="1091.50" y1="454.38" x2="1100.80" y2="454.38" stroke="#111" stroke-width="1.5" />
<line x1="1091.50" y1="449.47" x2="1100.80" y2="449.47" stroke="#111" stroke-width="1.5" />
<line x1="1091.50" y1="445.31" x2="1100.80" y2="445.31" stroke="#111" stroke-width="1.5" />
<line x1="1091.50" y1="441.71" x2="1100.80" y2="441.71" stroke="#111" stroke-width="1.5" />
<line x1="1091.50" y1="438.54" x2="1100.80" y2="438.54" stroke="#111" stroke-width="1.5" />
<line x1="1089.00" y1="435.70" x2="1100.80" y2="435.70" stroke="#333333" stroke-width="4.3" />
<line x1="1091.50" y1="417.02" x2="1100.80" y2="417.02" stroke="#111" stroke-width="1.5" />
<line x1="1091.50" y1="406.09" x2="1100.80" y2="406.09" stroke="#111" stroke-width="1.5" />
<line x1="1091.50" y1="398.34" x2="1100.80" y2="398.34" stroke="#111" stroke-width="1.5" />
<line x1="1091.50" y1="392.33" x2="1100.80" y2="392.33" stroke="#111" stroke-width="1.5" />
<line x1="1091.50" y1="387.42" x2="1100.80" y2="387.42" stroke="#111" stroke-width="1.5" />
<line x1="1091.50" y1="383.26" x2="1100.80" y2="383.26" stroke="#111" stroke-width="1.5" />
<line x1="1091.50" y1="379.66" x2="1100.80" y2="379.66" stroke="#111" stroke-width="1.5" />
<line x1="1091.50" y1="376.49" x2="1100.80" y2="376.49" stroke="#111" stroke-width="1.5" />
<line x1="1089.00" y1="373.65" x2="1100.80" y2="373.65" stroke="#333333" stroke-width="4.3" />
<line x1="1091.50" y1="354.97" x2="1100.80" y2="354.97" stroke="#111" stroke-width="1.5" />
<line x1="1091.50" y1="344.04" x2="1100.80" y2="344.04" stroke="#111" stroke-width="1.5" />
<line x1="1091.50" y1="336.29" x2="1100.80" y2="336.29" stroke="#111" stroke-width="1.5" />
<line x1="1091.50" y1="330.28" x2="1100.80" y2="330.28" stroke="#111" stroke-width="1.5" />
<line x1="1091.50" y1="325.37" x2="1100.80" y2="325.37" stroke="#111" stroke-width="1.5" />
<line x1="1091.50" y1="321.21" x2="1100.80" y2="321.21" stroke="#111" stroke-width="1.5" />
<line x1="1091.50" y1="317.61" x2="1100.80" y2="317.61" stroke="#111" stroke-width="1.5" />
<line x1="1091.50" y1="314.44" x2="1100.80" y2="314.44" stroke="#111" stroke-width="1.5" />
<line x1="1089.00" y1="311.60" x2="1100.80" y2="311.60" stroke="#333333" stroke-width="4.3" />
<line x1="1091.50" y1="292.92" x2="1100.80" y2="292.92" stroke="#111" stroke-width="1.5" />
<line x1="1091.50" y1="281.99" x2="1100.80" y2="281.99" stroke="#111" stroke-width="1.5" />
<line x1="1091.50" y1="274.24" x2="1100.80" y2="274.24" stroke="#111" stroke-width="1.5" />
<line x1="1091.50" y1="268.23" x2="1100.80" y2="268.23" stroke="#111" stroke-width="1.5" />
<line x1="1091.50" y1="263.32" x2="1100.80" y2="263.32" stroke="#111" stroke-width="1.5" />
<line x1="1091.50" y1="259.16" x2="1100.80" y2="259.16" stroke="#111" stroke-width="1.5" />
<line x1="1091.50" y1="255.56" x2="1100.80" y2="255.56" stroke="#111" stroke-width="1.5" />
<line x1="1091.50" y1="252.39" x2="1100.80" y2="252.39" stroke="#111" stroke-width="1.5" />
<line x1="1089.00" y1="249.55" x2="1100.80" y2="249.55" stroke="#333333" stroke-width="4.3" />
<line x1="1091.50" y1="230.87" x2="1100.80" y2="230.87" stroke="#111" stroke-width="1.5" />
<line x1="1091.50" y1="219.94" x2="1100.80" y2="219.94" stroke="#111" stroke-width="1.5" />
<line x1="1091.50" y1="212.19" x2="1100.80" y2="212.19" stroke="#111" stroke-width="1.5" />
<line x1="1091.50" y1="206.18" x2="1100.80" y2="206.18" stroke="#111" stroke-width="1.5" />
<line x1="1091.50" y1="201.27" x2="1100.80" y2="201.27" stroke="#111" stroke-width="1.5" />
<line x1="1091.50" y1="197.11" x2="1100.80" y2="197.11" stroke="#111" stroke-width="1.5" />
<line x1="1091.50" y1="193.51" x2="1100.80" y2="193.51" stroke="#111" stroke-width="1.5" />
<line x1="1091.50" y1="190.34" x2="1100.80" y2="190.34" stroke="#111" stroke-width="1.5" />
<line x1="1089.00" y1="187.50" x2="1100.80" y2="187.50" stroke="#333333" stroke-width="4.3" />
<line x1="1091.50" y1="168.82" x2="1100.80" y2="168.82" stroke="#111" stroke-width="1.5" />
<line x1="1091.50" y1="157.89" x2="1100.80" y2="157.89" stroke="#111" stroke-width="1.5" />
<line x1="1091.50" y1="150.14" x2="1100.80" y2="150.14" stroke="#111" stroke-width="1.5" />
<line x1="1091.50" y1="144.13" x2="1100.80" y2="144.13" stroke="#111" stroke-width="1.5" />
<line x1="1091.50" y1="139.22" x2="1100.80" y2="139.22" stroke="#111" stroke-width="1.5" />
<line x1="1091.50" y1="135.06" x2="1100.80" y2="135.06" stroke="#111" stroke-width="1.5" />
<line x1="1091.50" y1="131.46" x2="1100.80" y2="131.46" stroke="#111" stroke-width="1.5" />
<line x1="1091.50" y1="128.29" x2="1100.80" y2="128.29" stroke="#111" stroke-width="1.5" />
<line x1="1089.00" y1="125.45" x2="1100.80" y2="125.45" stroke="#333333" stroke-width="4.3" />
<line x1="1091.50" y1="106.77" x2="1100.80" y2="106.77" stroke="#111" stroke-width="1.5" />
<line x1="1091.50" y1="95.84" x2="1100.80" y2="95.84" stroke="#111" stroke-width="1.5" />
<line x1="1091.50" y1="88.09" x2="1100.80" y2="88.09" stroke="#111" stroke-width="1.5" />
<line x1="1091.50" y1="82.08" x2="1100.80" y2="82.08" stroke="#111" stroke-width="1.5" />
<line x1="1091.50" y1="77.17" x2="1100.80" y2="77.17" stroke="#111" stroke-width="1.5" />
<line x1="1091.50" y1="73.01" x2="1100.80" y2="73.01" stroke="#111" stroke-width="1.5" />
<line x1="1091.50" y1="69.41" x2="1100.80" y2="69.41" stroke="#111" stroke-width="1.5" />
<line x1="1091.50" y1="66.24" x2="1100.80" y2="66.24" stroke="#111" stroke-width="1.5" />
<line x1="1089.00" y1="63.40" x2="1100.80" y2="63.40" stroke="#333333" stroke-width="4.3" />
<line x1="1091.50" y1="44.72" x2="1100.80" y2="44.72" stroke="#111" stroke-width="1.5" />
<line x1="1091.50" y1="33.79" x2="1100.80" y2="33.79" stroke="#111" stroke-width="1.5" />
<line x1="1091.50" y1="26.04" x2="1100.80" y2="26.04" stroke="#111" stroke-width="1.5" />
<line x1="1091.50" y1="20.03" x2="1100.80" y2="20.03" stroke="#111" stroke-width="1.5" />
<line x1="1091.50" y1="15.12" x2="1100.80" y2="15.12" stroke="#111" stroke-width="1.5" />
<line x1="1091.50" y1="10.96" x2="1100.80" y2="10.96" stroke="#111" stroke-width="1.5" />
<text transform="translate(1117.50,505.10) scale(1,1.066)" font-size="29.9" text-anchor="middle">10<tspan font-size="20.2" dy="-14.2">−2</tspan></text>
<text transform="translate(1180.85,505.10) scale(1,1.066)" font-size="29.9" text-anchor="middle">10<tspan font-size="20.2" dy="-14.2">−1</tspan></text>
<text transform="translate(1244.20,505.10) scale(1,1.066)" font-size="29.9" text-anchor="middle">10<tspan font-size="20.2" dy="-14.2">0</tspan></text>
<text transform="translate(1307.55,505.10) scale(1,1.066)" font-size="29.9" text-anchor="middle">10<tspan font-size="20.2" dy="-14.2">1</tspan></text>
<text transform="translate(1370.90,505.10) scale(1,1.066)" font-size="29.9" text-anchor="middle">10<tspan font-size="20.2" dy="-14.2">2</tspan></text>
<text transform="translate(1434.25,505.10) scale(1,1.066)" font-size="29.9" text-anchor="middle">10<tspan font-size="20.2" dy="-14.2">3</tspan></text>
<text transform="translate(1080.10,450.10) scale(1,1.066)" font-size="29.9" text-anchor="end">10<tspan font-size="20.2" dy="-14.2">1</tspan></text>
<text transform="translate(1080.10,388.05) scale(1,1.066)" font-size="29.9" text-anchor="end">10<tspan font-size="20.2" dy="-14.2">2</tspan></text>
<text transform="translate(1080.10,326.00) scale(1,1.066)" font-size="29.9" text-anchor="end">10<tspan font-size="20.2" dy="-14.2">3</tspan></text>
<text transform="translate(1080.10,263.95) scale(1,1.066)" font-size="29.9" text-anchor="end">10<tspan font-size="20.2" dy="-14.2">4</tspan></text>
<text transform="translate(1080.10,201.90) scale(1,1.066)" font-size="29.9" text-anchor="end">10<tspan font-size="20.2" dy="-14.2">5</tspan></text>
<text transform="translate(1080.10,139.85) scale(1,1.066)" font-size="29.9" text-anchor="end">10<tspan font-size="20.2" dy="-14.2">6</tspan></text>
<text transform="translate(1080.10,77.80) scale(1,1.066)" font-size="29.9" text-anchor="end">10<tspan font-size="20.2" dy="-14.2">7</tspan></text>
<text x="1274.00" y="544.50" font-size="29.9" text-anchor="middle" >Sequencing rate (S/M/wk)</text>
<text transform="translate(1015.50,232.00) rotate(-90)" font-size="29.9" text-anchor="middle">Variant infections by detection day</text>
<text x="1435.80" y="25.80" font-size="35" text-anchor="start" font-weight="bold">d</text>
<path d="M1614.62,433.80 L1931.30,354.70" fill="none" stroke="#2c7bb6" stroke-width="4.6" stroke-linejoin="round" stroke-linecap="butt"/>
<path d="M1614.62,433.80 L1931.30,325.90" fill="none" stroke="#abd9e9" stroke-width="4.6" stroke-linejoin="round" stroke-linecap="butt"/>
<path d="M1614.62,433.80 L1931.30,219.30" fill="none" stroke="#fdae61" stroke-width="4.6" stroke-linejoin="round" stroke-linecap="butt"/>
<path d="M1614.62,433.80 L1931.30,30.00" fill="none" stroke="#d7191c" stroke-width="4.6" stroke-linejoin="round" stroke-linecap="butt"/>
<line x1="1599.40" y1="9.50" x2="1599.40" y2="454.80" stroke="#000" stroke-width="1.8" />
<line x1="1598.50" y1="453.90" x2="1947.30" y2="453.90" stroke="#000" stroke-width="1.8" />
<line x1="1590.10" y1="447.65" x2="1599.40" y2="447.65" stroke="#111" stroke-width="1.5" />
<line x1="1590.10" y1="440.34" x2="1599.40" y2="440.34" stroke="#111" stroke-width="1.5" />
<line x1="1587.60" y1="433.80" x2="1599.40" y2="433.80" stroke="#333333" stroke-width="4.3" />
<line x1="1590.10" y1="390.77" x2="1599.40" y2="390.77" stroke="#111" stroke-width="1.5" />
<line x1="1590.10" y1="365.60" x2="1599.40" y2="365.60" stroke="#111" stroke-width="1.5" />
<line x1="1590.10" y1="347.74" x2="1599.40" y2="347.74" stroke="#111" stroke-width="1.5" />
<line x1="1590.10" y1="333.88" x2="1599.40" y2="333.88" stroke="#111" stroke-width="1.5" />
<line x1="1590.10" y1="322.56" x2="1599.40" y2="322.56" stroke="#111" stroke-width="1.5" />
<line x1="1590.10" y1="312.99" x2="1599.40" y2="312.99" stroke="#111" stroke-width="1.5" />
<line x1="1590.10" y1="304.70" x2="1599.40" y2="304.70" stroke="#111" stroke-width="1.5" />
<line x1="1590.10" y1="297.39" x2="1599.40" y2="297.39" stroke="#111" stroke-width="1.5" />
<line x1="1587.60" y1="290.85" x2="1599.40" y2="290.85" stroke="#333333" stroke-width="4.3" />
<line x1="1590.10" y1="247.82" x2="1599.40" y2="247.82" stroke="#111" stroke-width="1.5" />
<line x1="1590.10" y1="222.65" x2="1599.40" y2="222.65" stroke="#111" stroke-width="1.5" />
<line x1="1590.10" y1="204.79" x2="1599.40" y2="204.79" stroke="#111" stroke-width="1.5" />
<line x1="1590.10" y1="190.93" x2="1599.40" y2="190.93" stroke="#111" stroke-width="1.5" />
<line x1="1590.10" y1="179.61" x2="1599.40" y2="179.61" stroke="#111" stroke-width="1.5" />
<line x1="1590.10" y1="170.04" x2="1599.40" y2="170.04" stroke="#111" stroke-width="1.5" />
<line x1="1590.10" y1="161.75" x2="1599.40" y2="161.75" stroke="#111" stroke-width="1.5" />
<line x1="1590.10" y1="154.44" x2="1599.40" y2="154.44" stroke="#111" stroke-width="1.5" />
<line x1="1587.60" y1="147.90" x2="1599.40" y2="147.90" stroke="#333333" stroke-width="4.3" />
<line x1="1590.10" y1="104.87" x2="1599.40" y2="104.87" stroke="#111" stroke-width="1.5" />
<line x1="1590.10" y1="79.70" x2="1599.40" y2="79.70" stroke="#111" stroke-width="1.5" />
<line x1="1590.10" y1="61.84" x2="1599.40" y2="61.84" stroke="#111" stroke-width="1.5" />
<line x1="1590.10" y1="47.98" x2="1599.40" y2="47.98" stroke="#111" stroke-width="1.5" />
<line x1="1590.10" y1="36.66" x2="1599.40" y2="36.66" stroke="#111" stroke-width="1.5" />
<line x1="1590.10" y1="27.09" x2="1599.40" y2="27.09" stroke="#111" stroke-width="1.5" />
<line x1="1590.10" y1="18.80" x2="1599.40" y2="18.80" stroke="#111" stroke-width="1.5" />
<line x1="1590.10" y1="11.49" x2="1599.40" y2="11.49" stroke="#111" stroke-width="1.5" />
<line x1="1603.70" y1="453.90" x2="1603.70" y2="465.60" stroke="#333333" stroke-width="4.3" />
<text transform="translate(1603.70,497.60) scale(1,1.066)" font-size="29.9" text-anchor="middle">0</text>
<line x1="1712.90" y1="453.90" x2="1712.90" y2="465.60" stroke="#333333" stroke-width="4.3" />
<text transform="translate(1712.90,497.60) scale(1,1.066)" font-size="29.9" text-anchor="middle">10</text>
<line x1="1822.10" y1="453.90" x2="1822.10" y2="465.60" stroke="#333333" stroke-width="4.3" />
<text transform="translate(1822.10,497.60) scale(1,1.066)" font-size="29.9" text-anchor="middle">20</text>
<line x1="1931.30" y1="453.90" x2="1931.30" y2="465.60" stroke="#333333" stroke-width="4.3" />
<text transform="translate(1931.30,497.60) scale(1,1.066)" font-size="29.9" text-anchor="middle">30</text>
<text transform="translate(1578.70,449.10) scale(1,1.066)" font-size="29.9" text-anchor="end">10<tspan font-size="20.2" dy="-14.2">0</tspan></text>
<text transform="translate(1578.70,305.55) scale(1,1.066)" font-size="29.9" text-anchor="end">10<tspan font-size="20.2" dy="-14.2">1</tspan></text>
<text transform="translate(1578.70,162.00) scale(1,1.066)" font-size="29.9" text-anchor="end">10<tspan font-size="20.2" dy="-14.2">2</tspan></text>
<text x="1773.00" y="544.50" font-size="29.9" text-anchor="middle" >Reduction in turnaround time (d)</text>
<text transform="translate(1482.80,232.00) rotate(-90)" font-size="29.9" text-anchor="middle">Equivalent fold increase</text>
<text transform="translate(1515.90,232.00) rotate(-90)" font-size="29.9" text-anchor="middle">in sequencing rate</text>
<text x="776.4" y="602.3" font-size="29.9">Variant <tspan font-style="italic">R</tspan><tspan font-style="italic" font-size="21" dy="5">e</tspan></text>
<line x1="929.80" y1="593.00" x2="954.60" y2="593.00" stroke="#2c7bb6" stroke-width="4.6" />
<text transform="translate(974.30,602.30) scale(1,1.066)" font-size="29.9" text-anchor="start">1.2</text>
<line x1="1032.10" y1="593.00" x2="1056.90" y2="593.00" stroke="#abd9e9" stroke-width="4.6" />
<text transform="translate(1075.80,602.30) scale(1,1.066)" font-size="29.9" text-anchor="start">1.3</text>
<line x1="1134.50" y1="593.00" x2="1159.30" y2="593.00" stroke="#fdae61" stroke-width="4.6" />
<text transform="translate(1178.00,602.30) scale(1,1.066)" font-size="29.9" text-anchor="start">1.6</text>
<line x1="1236.60" y1="593.00" x2="1261.40" y2="593.00" stroke="#d7191c" stroke-width="4.6" />
<text transform="translate(1278.90,602.30) scale(1,1.066)" font-size="29.9" text-anchor="start">2</text>
</svg></body></html>
